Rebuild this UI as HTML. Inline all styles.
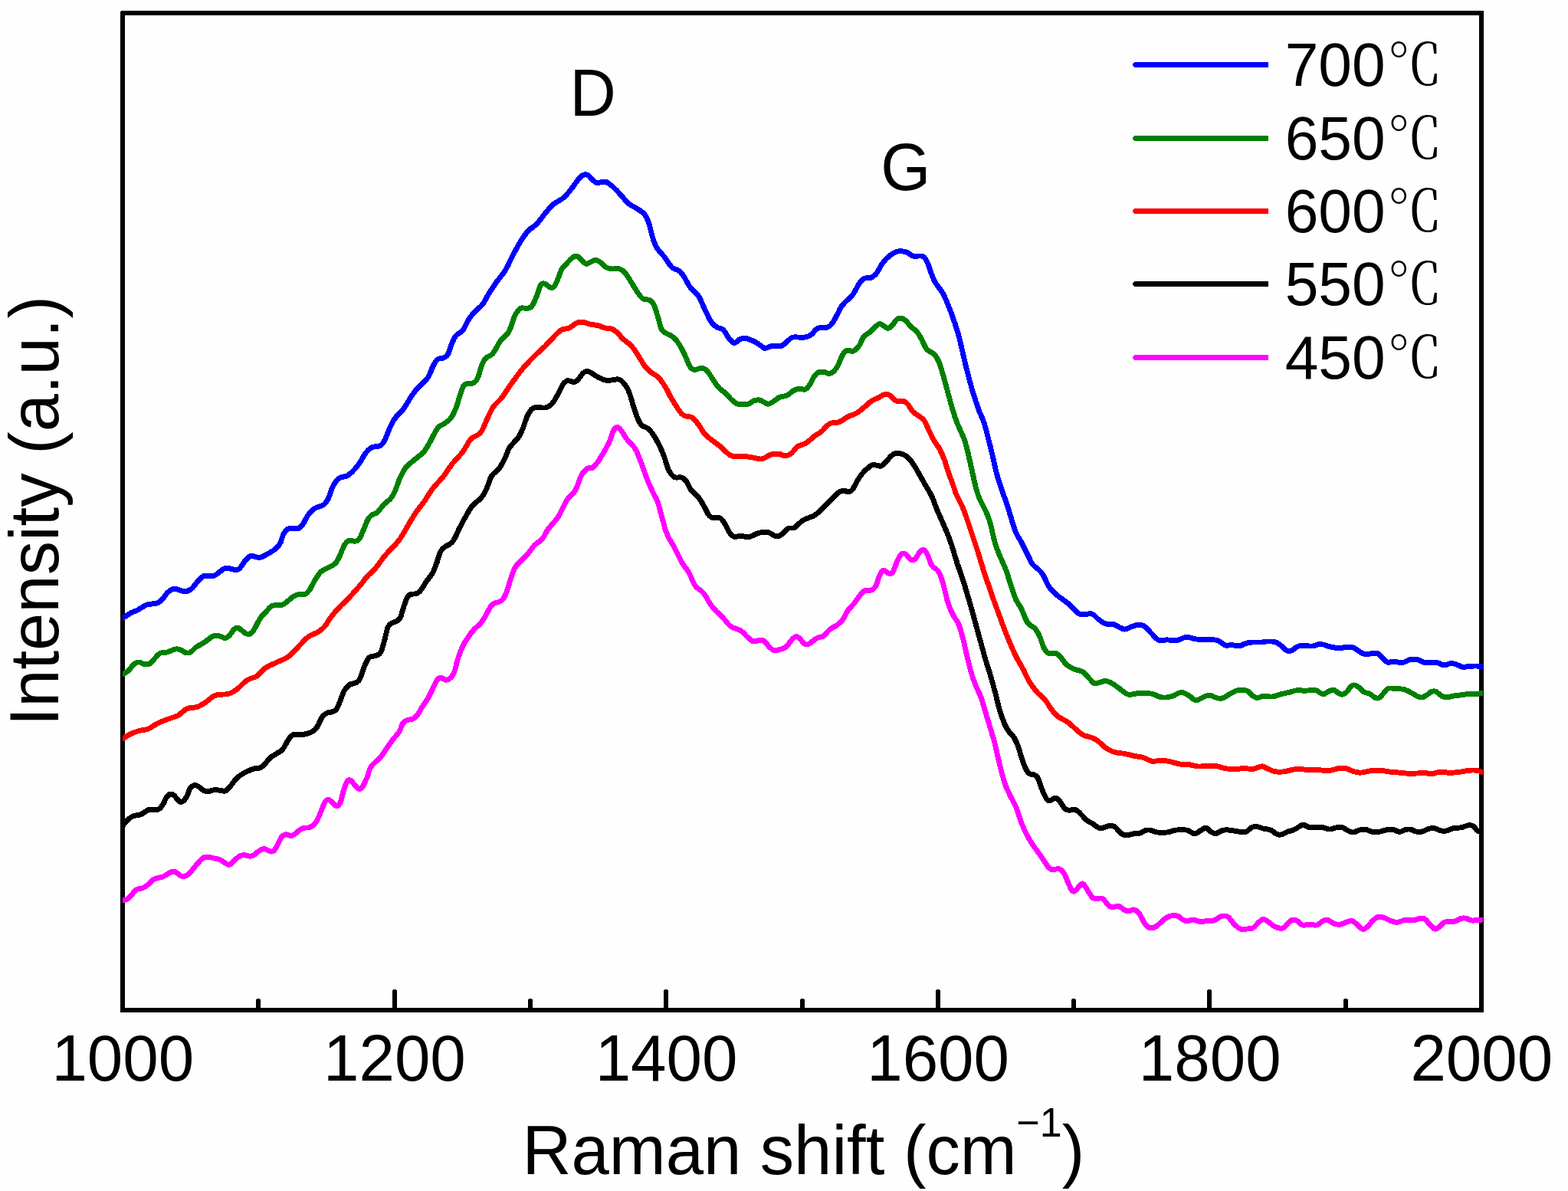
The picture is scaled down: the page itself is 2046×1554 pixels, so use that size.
<!DOCTYPE html>
<html lang="en">
<head>
<meta charset="utf-8">
<title>Raman spectra</title>
<style>
html,body{margin:0;padding:0;background:#fff;}
body{width:2046px;height:1554px;overflow:hidden;}
svg{display:block;}
text{font-family:"Liberation Sans",sans-serif;fill:#000;}
.cjk{font-family:"Liberation Sans","Noto Serif CJK SC",serif;}
</style>
</head>
<body>
<svg width="2046" height="1554" viewBox="0 0 2046 1554">
<rect x="0" y="0" width="2046" height="1554" fill="#fefefe"/>
<defs><clipPath id="plotclip"><rect x="160" y="0" width="1775" height="1554"/></clipPath></defs>
<g id="axes" shape-rendering="crispEdges" fill="#000">
<rect x="157" y="15" width="6" height="1306"/>
<rect x="158" y="14" width="1778" height="6"/>
<rect x="1930" y="14" width="6" height="1306"/>
<rect x="158" y="1315" width="1778" height="6"/>
<rect x="334" y="1304" width="6" height="14"/>
<rect x="335" y="1303" width="4" height="1"/>
<rect x="512" y="1292" width="6" height="26"/>
<rect x="513" y="1291" width="4" height="1"/>
<rect x="689" y="1304" width="6" height="14"/>
<rect x="690" y="1303" width="4" height="1"/>
<rect x="866" y="1292" width="6" height="26"/>
<rect x="867" y="1291" width="4" height="1"/>
<rect x="1044" y="1304" width="6" height="14"/>
<rect x="1045" y="1303" width="4" height="1"/>
<rect x="1221" y="1292" width="6" height="26"/>
<rect x="1222" y="1291" width="4" height="1"/>
<rect x="1398" y="1304" width="6" height="14"/>
<rect x="1399" y="1303" width="4" height="1"/>
<rect x="1575" y="1292" width="6" height="26"/>
<rect x="1576" y="1291" width="4" height="1"/>
<rect x="1753" y="1304" width="6" height="14"/>
<rect x="1754" y="1303" width="4" height="1"/>
</g>
<g id="curves" clip-path="url(#plotclip)" shape-rendering="crispEdges" fill-rule="evenodd">
<path d="M160 1177.9L163.3 1177.6L165.1 1177.3L167.4 1176.4L169.4 1175L171.5 1173L174.7 1169.6L178.5 1164.7L179.4 1163.9L181 1163.3L186.8 1162L189.8 1160.7L192.6 1159L195.1 1157L197 1155.2L199.9 1152.1L201.7 1150.8L203.8 1149.8L206.9 1148.8L211.7 1147.8L214.6 1146.8L216.8 1145.6L224.8 1140.8L225.8 1140.6L227.2 1141L228.7 1141.8L233.9 1145.5L235.4 1146.2L236.9 1146.7L238.5 1146.9L240.7 1146.8L242.9 1146.3L244.4 1145.7L246.3 1144.5L248.1 1143.1L252.4 1138.8L254.7 1136.1L259.2 1130.3L264.5 1124.4L267 1122.2L268 1121.7L269.5 1121.5L272.5 1121.7L284.4 1124.4L286.3 1125.3L290.7 1128.2L295.1 1130.8L297.7 1131.7L298.7 1131.8L299.9 1131.7L301.9 1131L303.4 1129.9L308.4 1124.9L312.6 1121.3L314.2 1120.2L315.6 1119.6L316.9 1119.3L318.8 1119.2L325 1120.6L327.2 1120.5L329.2 1120.1L331.8 1119.1L334.2 1117.8L339.5 1113.5L343.3 1111.2L344.5 1110.9L348.4 1112.8L352.4 1114.2L353.9 1114.5L355.1 1114.5L356.6 1114.2L357.8 1113.8L359.5 1112.6L360.8 1111.3L361.9 1109.7L365 1104.6L368.1 1097.8L369.4 1095.3L370.6 1093.9L371.8 1092.9L372.6 1092.5L373.6 1092.3L377.2 1093.5L378.9 1093.8L380.7 1093.7L382.9 1093.2L384.8 1092.3L386.8 1091.1L393.1 1085.7L394.9 1084.5L396.5 1084L399 1083.4L402.4 1083.5L403.9 1083.3L405.1 1082.9L408.5 1081.1L411.7 1078.6L414.6 1075.4L417.1 1071.2L421.2 1062.3L426.1 1049.7L427.2 1047.8L428 1047L428.3 1047L429.3 1047.8L432.6 1050.7L435.5 1053.7L437.5 1054.8L439.4 1055.1L441.4 1054.7L443.2 1053.8L444.2 1053L446.3 1050.3L447.8 1047.1L448.9 1043.6L451.3 1033.5L454.2 1024.9L455.6 1021.9L455.9 1021.4L456.3 1021.5L456.8 1022.1L459.3 1025.5L463.4 1030.4L464.8 1031.5L465.7 1032L467.8 1032.7L469.3 1032.8L470.8 1032.5L472.3 1031.9L474.2 1030.5L475.7 1028.8L476.9 1026.9L479.6 1021.5L482.3 1015.2L485.7 1004.9L487.3 1001.9L489 999.9L498.5 990.7L501.7 987L508.4 976.8L512.8 970.6L516.7 965.4L521.6 959.7L523.8 956.7L525.2 954L528.1 946.1L529 944.9L530.2 944L532.8 942.8L533.8 942.4L538.2 941.7L540.8 940.6L542.7 939.4L544.2 938.2L546 936.4L547.7 934.3L549.5 931.7L553.9 924L559.3 916.1L561.9 911.9L564.6 906.7L571.6 892L573.2 889.2L574.4 888L575.2 887.8L578.6 889.7L580.3 890.4L582.4 890.7L584.7 890.3L586.8 889.5L588.8 888.1L591.2 886L592.9 883.8L594.7 880.9L596.3 877.1L597.3 873.6L599.8 863.7L601.8 857.6L604.2 851L606.1 846.5L608.6 841.6L610.5 838.2L612.9 834.5L616.8 828.9L620.6 824.2L622.9 821.9L628.3 817L631.9 812.9L634.5 808.8L639 800.4L642.4 794.6L644.5 791.6L646 790.5L650.9 789.1L655.4 787.1L657.7 785.3L659.7 783L662.2 778.6L664.7 772.7L668.8 759.4L672.2 749.1L674.2 744.1L675.9 740.9L678 738.3L687.4 729.3L690 726.6L692.8 723.1L697.7 716.3L700 713.6L701.6 712.2L707 708.5L709.1 706.5L710.9 704.4L712.4 702.1L716.5 694.9L717.8 692.8L720.7 689.1L728.1 680.4L730.2 677.6L732.5 674.2L735 669.5L740.1 658.6L742.3 654.7L744.6 651.9L750.5 646L752.2 643.8L753.5 641.9L754.7 639.8L755.7 637.3L760.7 623.8L761.5 622L763.3 619.1L765.9 616.2L768.3 614.2L771.2 614.3L773.1 614.1L774.9 613.4L776.3 612.4L778.1 610.7L779.6 609L784.4 602.4L788 596.6L793 588L797.6 579.5L799.8 574.4L802.7 565.4L803.6 563.3L804.3 562.2L805.4 561.1L806.5 562.1L807.8 563.6L809.1 565.5L812.5 571.3L814.3 574L817 577.2L822 582.3L823.8 584.4L825.6 586.9L827.4 590.1L829.8 595.7L833.8 606L839.8 622.7L842.8 630.6L849.4 645L853.4 652.4L854.8 655.5L856.7 661.6L860.2 675.1L864.2 689.5L865.7 694.4L867.3 698.5L870 704.1L876.9 715.8L883.9 730L886.4 734.8L889.1 739.1L894.6 746.9L896.5 750L897.9 752.8L901.4 761.1L902.5 763.4L903.8 765.5L905.5 767.7L907.3 769.4L913.3 774.1L915.5 776.2L917.6 779.2L923.2 788.7L925.7 792.3L928.3 795.7L932.6 800.4L941.5 809.1L947.9 816.7L951 819.7L952.9 821L955.2 822.2L962.8 824.8L965.5 826.2L967.1 827.6L971.6 832.5L975.6 836.2L977.8 838L980.2 839.6L982.6 840.4L985.1 840.4L987.2 840L991.3 838.7L992.6 838.5L993.6 838.6L994.4 838.9L996 840.1L1000.3 845.4L1002.3 847.4L1005.3 850L1007.8 851.5L1009.6 852L1011.8 852.2L1015 851.8L1022.8 849.5L1026.1 847.9L1028.1 846.5L1030 844.6L1034.7 838.3L1036.5 836.1L1038.5 834.3L1039 834L1041.5 835.9L1044.8 840L1047 842.3L1048.5 843.3L1050.1 844.1L1051.1 844.3L1052.8 844.5L1055.2 844.1L1057.6 843L1063.1 838.8L1068 835.4L1069.4 834.9L1073.9 833.9L1076.5 832.7L1078.9 830.7L1083.5 825.2L1084.7 824.1L1086.8 822.6L1091.6 820.1L1093.9 818.6L1097.7 815.5L1100.7 812.6L1102.7 810.1L1103.9 808.4L1108 800.4L1109.3 798.3L1111.1 796.2L1116.6 790.2L1123.8 780.3L1127.1 776.1L1128.3 774.8L1129.1 774.2L1129.7 774L1131.1 773.9L1135 773.9L1137 773.6L1138 773.3L1140.7 771.9L1143.2 769.7L1145 767.4L1146.7 764.4L1147.8 761.6L1150.3 753.9L1151.1 751.7L1152.8 748.7L1153.4 748L1155.7 750.1L1156.6 750.7L1158.1 751.3L1160.7 752L1162.7 752L1163.7 751.8L1164.8 751.4L1165.8 750.8L1167 749.7L1168.1 748.2L1169.2 745.9L1172.7 736.3L1174.6 732L1177.4 726.8L1178.5 725.4L1180.4 726.4L1180.9 726.9L1183.8 730.6L1185.7 732.4L1186.7 733L1188.3 733.7L1189.9 734.1L1191.6 734.1L1194.1 733.4L1195 732.9L1196.5 731.8L1197.3 731.1L1199 728.7L1202.2 723.3L1204.4 721L1204.6 721.1L1205.6 722.4L1206.9 724.6L1207.8 726.7L1210.8 735L1212.7 739.1L1214 740.9L1215.5 742.5L1219.8 745.7L1220.9 746.8L1222.1 748.3L1223.3 750.7L1225.2 755.7L1228.2 765.5L1232.6 784.1L1234.7 790.8L1237.4 797.3L1241.9 806.4L1243.2 808.5L1246.5 813.3L1248.2 817.2L1250.7 824.9L1253.7 835.9L1260.2 864.2L1262.2 872.2L1264.2 879.3L1266.7 887.2L1269.3 894.1L1270.9 897.9L1275.3 907.4L1277.7 913.6L1282.7 930.6L1293.2 965.1L1295.1 972.6L1299.1 990.4L1302.1 1002.9L1304.7 1012.4L1307.2 1020.8L1309.2 1026.8L1311.4 1032L1315.4 1040.4L1320.9 1050.9L1322.8 1055L1324.2 1058.8L1328.2 1071.3L1332.3 1081.4L1336.5 1090.3L1341 1098.3L1348.2 1109L1356.6 1120.8L1362.1 1129.2L1364.2 1132.2L1367.5 1135.7L1369 1136.8L1370.7 1137.6L1372.4 1138L1374.5 1138L1379.8 1137.2L1381.2 1137.2L1382 1137.4L1383 1138.2L1384.2 1139.6L1386 1142.3L1387.3 1145.2L1390.9 1154L1394 1160.7L1396 1164L1397 1165.1L1398.3 1166L1399.7 1166.5L1401.1 1166.6L1402.1 1166.4L1403.3 1165.9L1404.8 1165L1407.7 1162.5L1411.1 1158.1L1412.2 1157L1419.6 1169.1L1421.4 1171.7L1423.6 1174L1425.4 1175.1L1426.9 1175.6L1430.1 1176L1432.2 1176L1436.1 1175.4L1436.9 1175.6L1438.4 1176.9L1442.3 1181.9L1443.9 1183.8L1445.3 1185L1447.5 1186.2L1449.9 1186.8L1454.1 1186.7L1458.5 1185.7L1459.2 1185.7L1460.1 1186.2L1464.9 1190L1466.8 1190.9L1468.8 1191.7L1471.4 1192.2L1473.6 1192.2L1474.5 1192L1479 1190.3L1480.6 1191.1L1482.5 1192.7L1484.2 1194.7L1489.1 1204.1L1491.1 1207.1L1493 1209.4L1494.9 1211.4L1497 1213L1499.3 1213.9L1501.5 1214.3L1503.6 1214.2L1505.6 1213.9L1508.2 1213L1510.6 1211.6L1513.6 1209.3L1519.3 1203.9L1521.1 1202.3L1523.4 1200.7L1525.1 1199.7L1527.9 1198.5L1531.6 1198.1L1534.4 1198.3L1536.4 1198.8L1540.9 1202.6L1543.9 1204.1L1546.4 1205L1548.6 1205.3L1550.2 1205.3L1552.4 1204.8L1555.9 1203.5L1556.7 1203.4L1558.5 1203.8L1564.3 1205.9L1567.3 1206.3L1570.3 1206L1575 1204.9L1581 1204.9L1584.4 1204.5L1585.9 1204L1587.9 1203.1L1593.2 1199.6L1594.7 1198.9L1597 1198.4L1598.7 1198.4L1600 1198.9L1601.1 1199.8L1606.5 1206.5L1610.5 1210.6L1613 1212.8L1614.5 1213.9L1616.4 1214.9L1618.6 1215.6L1620.7 1215.8L1631.6 1215.3L1634.2 1214.8L1636.2 1214L1637.8 1213.1L1639.2 1211.9L1644.4 1206.2L1646.7 1204.2L1648.5 1202.9L1649.7 1203.4L1653.5 1206L1658.4 1209.9L1661.5 1211.8L1663.8 1212.9L1666.1 1213.8L1668.5 1214.4L1670.3 1214.7L1672.4 1214.7L1674.6 1214.4L1676.1 1213.9L1677.8 1213L1680.2 1210.6L1683.9 1206L1685.9 1204.4L1687.2 1203.8L1688.9 1203.8L1690.8 1204.4L1691.8 1205.2L1695.5 1208.7L1697.2 1209.7L1699 1210.3L1700.5 1210.5L1702.5 1210.6L1709 1209.7L1716.2 1210.6L1718.9 1210.4L1721.3 1209.5L1723.4 1208.2L1727 1205.2L1728.1 1204.5L1729.9 1203.8L1731 1203.7L1732.4 1204.1L1736.6 1206.8L1739 1208.1L1743 1209.3L1746.6 1209.7L1749.2 1209.6L1751.2 1209.2L1762 1205L1763.3 1204.8L1763.8 1205L1765.4 1206.2L1768.2 1208.5L1772 1212.5L1773.8 1214L1775.9 1215.2L1776.8 1215.5L1778.8 1215.8L1780.7 1215.5L1782.2 1215L1785.4 1212.9L1788.2 1210.2L1793 1204.4L1796.6 1201.2L1798.6 1200L1799.9 1199.6L1801.4 1199.7L1804 1200.4L1805.6 1201L1811 1203.6L1813.2 1204.5L1818 1206L1820.3 1206.5L1822.6 1206.8L1824.7 1206.7L1826.2 1206.3L1831 1204.6L1832.6 1204.2L1835.1 1204L1842.5 1204.1L1845.7 1203.9L1848.7 1203.3L1853.6 1201.6L1854.9 1201.5L1856.3 1201.6L1857.2 1202L1858.2 1202.7L1863.3 1209L1867.6 1213.2L1870.3 1215.1L1871.3 1215.4L1872.7 1215.7L1873.6 1215.6L1875.4 1215.2L1876.9 1214.5L1879.4 1212.8L1881.4 1211L1885.3 1207.2L1886.3 1206.5L1888.1 1206.2L1893.8 1206.4L1897.6 1206.1L1900.5 1205.1L1906.4 1202.2L1908.6 1201.5L1910.5 1201.3L1911.8 1201.5L1913.3 1202L1917.6 1203.9L1919.1 1204.3L1920.6 1204.5L1923.1 1204.5L1927.8 1203.9L1937.6 1203.3L1942 1203.3L1942 1196.4L1937.3 1196.4L1931.3 1196.7L1927.1 1197L1922.7 1197.6L1921.2 1197.6L1919.7 1197.3L1915.9 1195.6L1913.6 1194.8L1910.2 1194.4L1907.7 1194.6L1905.3 1195.2L1903.5 1195.9L1897.7 1198.8L1895.8 1199.4L1893.9 1199.5L1887.6 1199.3L1885.6 1199.6L1884.1 1200L1882.4 1200.8L1880.9 1201.8L1875.4 1207.2L1873 1208.7L1872.2 1208.1L1868.6 1204.5L1864.7 1199.7L1862.6 1197.5L1860.5 1195.9L1858 1194.9L1855.4 1194.6L1852.8 1194.7L1850.6 1195.2L1846.5 1196.7L1845 1197L1842.4 1197.2L1835 1197.1L1831.7 1197.4L1828.8 1198.1L1824.6 1199.6L1822.6 1199.9L1819.9 1199.4L1815.7 1198.1L1808.5 1194.8L1805.9 1193.8L1802.4 1192.9L1799.4 1192.7L1797.4 1193.1L1795.7 1193.7L1792.2 1195.9L1787.8 1199.8L1782.9 1205.7L1781.3 1207.4L1779.4 1208.6L1778.8 1208.8L1778 1208.5L1776.8 1207.5L1773 1203.6L1769.5 1200.7L1767.5 1199.2L1765.3 1198.2L1764.1 1198L1762.6 1197.9L1760.2 1198.3L1749.1 1202.6L1746.7 1202.8L1744.3 1202.5L1741.3 1201.6L1735.3 1197.8L1733.8 1197.2L1731.4 1196.8L1728.5 1197.1L1725.3 1198.2L1722.8 1199.7L1718.4 1203.3L1717.7 1203.5L1716.5 1203.7L1709.2 1202.8L1706.5 1203L1702.2 1203.7L1700.4 1203.6L1699.7 1203.1L1696 1199.7L1693.9 1198.2L1691.9 1197.4L1689.8 1196.9L1687.7 1196.8L1686.2 1197L1684.5 1197.4L1682.4 1198.4L1679.3 1200.8L1677.8 1202.5L1674.9 1206.2L1673.9 1207.3L1672.7 1207.8L1670.9 1207.8L1668.1 1207.2L1664.7 1205.7L1662.5 1204.3L1657.6 1200.5L1653.1 1197.4L1650.6 1196.3L1649.1 1196L1647.9 1196L1646 1196.5L1645 1196.9L1642.4 1198.8L1639.7 1201.2L1634.6 1206.8L1633.5 1207.7L1632.1 1208.2L1630.6 1208.4L1621 1208.9L1619.2 1208.6L1618.3 1208.2L1615.4 1205.7L1611.6 1201.8L1607.6 1196.7L1606.1 1195L1604.8 1193.9L1602.7 1192.6L1599.9 1191.6L1598.4 1191.5L1596.3 1191.5L1592 1192.5L1589.6 1193.7L1584.4 1197.2L1582.8 1197.7L1580.8 1198L1574.3 1198.1L1568.9 1199.2L1567.4 1199.4L1566 1199.2L1560.2 1197.1L1556.9 1196.5L1554.3 1196.8L1549.4 1198.4L1548.3 1198.3L1546.8 1197.9L1544.8 1196.8L1541.3 1193.8L1539.2 1192.5L1537.8 1192L1535.4 1191.4L1531.6 1191.2L1528.7 1191.4L1526.4 1191.8L1524.1 1192.5L1521.7 1193.6L1519.5 1195L1516.7 1197L1509.3 1203.9L1506.6 1205.9L1504.1 1207.2L1501.8 1207.4L1500.3 1206.9L1499.3 1206.1L1498.1 1204.8L1495 1200.4L1491.6 1193.8L1489.7 1190.5L1487.4 1187.8L1484.6 1185.4L1482.1 1184L1479.7 1183.4L1478.3 1183.4L1476.8 1183.7L1472.9 1185.3L1470.9 1185.1L1468.4 1184L1463.7 1180.3L1462.2 1179.5L1460.3 1178.9L1457.8 1178.8L1453.5 1179.8L1450.7 1179.9L1450.1 1179.8L1448.9 1179.1L1447.7 1177.6L1443.4 1172.2L1441.4 1170.3L1439.7 1169.3L1437.9 1168.7L1436.4 1168.5L1430.6 1169.2L1428.8 1168.9L1428 1168.7L1426.7 1167.3L1425.4 1165.3L1418.2 1153.5L1416.7 1151.5L1415 1150.1L1413 1149.4L1411.4 1149.6L1410.4 1149.9L1409.3 1150.5L1407.6 1151.9L1406.1 1153.4L1402.5 1157.9L1401.1 1159.2L1400.1 1157.4L1397.2 1151.1L1393.7 1142.5L1392.1 1139.2L1389.9 1135.7L1387.8 1133.2L1386.8 1132.3L1385.3 1131.4L1383.7 1130.7L1382.1 1130.3L1379.5 1130.3L1374.2 1131.1L1373 1131.1L1371.8 1130.3L1369.7 1128L1367.9 1125.4L1362.3 1116.8L1353.8 1105.1L1346.9 1094.6L1342.6 1087.1L1338.7 1078.8L1334.7 1069.1L1330.8 1056.6L1329.2 1052.5L1327.1 1047.7L1321.6 1037.3L1317.7 1029.1L1315.7 1024.4L1313.8 1018.8L1311.3 1010.5L1308.8 1001.2L1305.9 988.9L1301.9 971L1299.8 963.2L1289.3 928.6L1284.3 911.4L1281.7 904.7L1277.1 895L1275.7 891.6L1273.3 885L1270.8 877.4L1268.8 870.5L1266.9 862.6L1260.3 834.1L1257.3 823L1254.8 815L1253.7 812.2L1252.6 810L1248.9 804.7L1248 803.2L1243.6 794.4L1241.2 788.4L1239.3 782.4L1234.8 763.6L1231.8 753.6L1229.6 747.7L1228.1 744.8L1226.2 742.4L1224.1 740.3L1220.3 737.5L1218.5 735.3L1217.2 732.5L1214.2 724.3L1213.2 721.7L1211.5 718.8L1209.7 716.5L1207.6 714.7L1206.4 714.2L1205.4 713.9L1203.8 713.9L1201.7 714.5L1200.1 715.5L1198.4 717.2L1196.9 718.9L1195.5 720.9L1193.1 725.1L1192 726.5L1191.4 727L1190.9 727.2L1190.4 727.1L1189.7 726.8L1186.2 722.5L1184.8 721.1L1182.8 719.8L1180.9 718.9L1179.1 718.5L1177 718.6L1175.9 719L1174.1 720.1L1172.7 721.5L1171.5 723.2L1168.4 729L1166.3 733.9L1162.8 743.3L1161.9 745.1L1161.6 745.1L1159.9 744.6L1156.8 741.9L1155.8 741.3L1154.4 740.8L1153.4 740.6L1151.4 740.9L1150.6 741.4L1148.9 742.7L1147 745L1145 748.5L1143.7 751.7L1141.2 759.4L1140.4 761.6L1139.1 763.7L1138 765.2L1136.6 766.3L1135.5 766.9L1134.3 767.1L1130.7 767L1127.9 767.3L1125.5 768.3L1123.5 769.9L1121.8 771.7L1118.3 776.1L1111.3 785.8L1106 791.5L1103.8 794.1L1101.9 797.1L1098 804.7L1095.4 808L1093.2 810.3L1090 813L1088.3 814L1083.4 816.6L1080.5 818.6L1078.4 820.7L1074 825.9L1072.8 826.9L1071.5 827.4L1067.3 828.3L1064.7 829.4L1062.5 830.7L1059 833.3L1054.1 837.1L1052.7 837.6L1052.2 837.5L1051.3 836.9L1046.7 831.3L1043.2 828.4L1042.2 827.8L1040.6 827.2L1038.6 827.1L1037.2 827.3L1034.8 828.4L1031.7 831.2L1029.2 834.1L1024.9 839.9L1023.7 841.1L1022.6 841.9L1020.4 843L1013.7 845L1011.8 845.3L1010.8 845.2L1009.5 844.5L1006.9 842.3L1000.8 835.2L999.4 834L997.9 833L995.8 832L994.9 831.8L991.9 831.6L989.4 832L984.6 833.5L983.4 833.4L982 832.6L980.3 831.1L976.5 827.6L972 822.8L969.2 820.4L967.4 819.3L965.4 818.5L957.9 815.9L955.2 814.2L953 812.1L946.4 804.3L937.5 795.5L933.6 791.4L931.3 788.3L928.9 784.9L923.5 775.6L920.7 771.7L917.6 768.7L911.9 764.3L910.6 763L909.4 761.4L907.6 758.2L904.2 750L902.6 746.8L900.3 743L894.9 735.3L892.5 731.5L890.1 726.9L883 712.5L876 700.7L873.7 695.9L872.3 692.3L870.8 687.6L866.8 673.3L863.3 659.8L861.3 653.3L859.5 649.2L855.6 642L849.2 627.9L846.2 620.3L840.2 603.6L836.2 593.2L833.5 586.9L831.5 583.3L829.1 580L827 577.5L822.1 572.5L819.8 569.7L815 561.9L813.1 559.3L811.4 557.2L809.2 555.3L808.2 554.7L806.1 554.1L804.7 554.2L803.2 554.5L802.2 554.9L800.4 556.2L798.5 558.3L797.3 560.5L796.3 562.9L793.3 572.1L791.4 576.4L789.5 580.2L782 593.1L778.6 598.6L774.3 604.6L773 606L771.5 607.4L767.8 607.3L766.3 607.6L765.1 608.1L763.3 609.3L761 611.2L759.3 613.1L757.6 615.3L755.6 618.6L754.4 621L749.3 634.8L747.5 638.4L745.4 641.4L739.6 647.1L736.6 650.9L734 655.5L728.9 666.4L726.5 670.8L722.8 676L715.4 684.7L712.3 688.7L710.5 691.4L706.6 698.4L705.2 700.4L704 701.9L702.8 702.9L697.5 706.6L694.9 709L692.2 712.2L687.3 719L684.9 721.9L682.6 724.4L673.1 733.5L671.4 735.4L670.2 737L669.1 738.9L667.9 741.2L665.7 746.8L662.2 757.2L658.3 770.1L655.9 775.8L654.1 778.9L653 780.2L651.8 781.1L648.4 782.7L644.9 783.6L642.7 784.4L640.6 785.8L639.3 787.1L638.1 788.6L636.5 791L633 797.1L628.5 805.4L626.2 808.9L623.5 812L618.2 816.8L615.3 819.7L611.2 824.9L607.2 830.5L604.6 834.6L602.4 838.4L599.9 843.6L597.8 848.4L595.3 855.3L593.2 861.7L590.7 871.9L589.8 874.9L588.4 877.9L587.2 879.9L586 881.4L584.4 882.8L582.7 883.7L582.1 883.7L578.8 881.8L577.2 881.2L575.3 880.9L574.3 880.9L572.8 881.2L570.9 882.1L569.3 883.2L567.9 884.8L566.6 886.7L565.4 889L558.4 903.7L556 908.4L553.6 912.2L548.2 920.2L543.6 928.1L542.2 930.1L539.6 933L537.5 934.6L536.1 935.1L532 935.8L530 936.4L526.5 938.1L525.2 939.1L523.8 940.4L522.5 942.1L521.8 943.5L518.8 951.4L518.1 952.8L516.3 955.3L511.2 961.2L507.2 966.6L502.6 973L496.2 982.8L493.5 986L484.1 995L481.6 998.1L480.4 1000L479.2 1002.5L475.8 1012.9L473.4 1018.6L471 1023.4L469.5 1025.5L468.9 1025.8L468.4 1025.5L464.7 1021.2L462 1017.5L460.3 1015.8L458.5 1014.9L457 1014.5L455.8 1014.3L454.8 1014.4L453.4 1014.8L452.4 1015.3L451.5 1016L450.1 1017.6L449.4 1018.8L447.9 1022.2L444.7 1031.5L442.2 1041.8L441.3 1044.9L440.5 1046.5L439.5 1047.9L437.3 1045.6L433.8 1042.5L431.4 1040.8L430.4 1040.4L428.3 1040L426.4 1040.2L424.4 1041.1L423.6 1041.7L422.1 1043.1L420 1046.3L418.3 1050.5L414.8 1059.7L410.9 1068.2L409.2 1071.1L407.1 1073.5L404.7 1075.4L402.4 1076.5L399.3 1076.5L397.7 1076.6L394.3 1077.4L391.9 1078.3L390.5 1079.1L388.7 1080.4L383 1085.4L380.4 1086.7L379.4 1086.9L375.6 1085.6L374.1 1085.3L372.8 1085.4L370 1086.1L368 1087.1L365.6 1089L363.8 1091.3L361.9 1094.9L358.9 1101.3L356.2 1105.9L354.8 1107.5L353.9 1107.5L350.9 1106.4L346.9 1104.4L345.9 1104.1L344 1104L343 1104.1L341 1104.7L338.4 1106.1L335.3 1108L330.6 1111.9L329 1112.8L327.5 1113.4L325.4 1113.7L321.4 1112.6L318.9 1112.3L316.4 1112.4L313.8 1112.9L311.1 1114L308.3 1115.9L303.8 1119.8L299.3 1124.5L298.7 1124.8L294.4 1122.3L289.9 1119.4L286.4 1117.8L273.2 1114.9L269.3 1114.6L267.3 1114.8L265.8 1115.1L264.2 1115.8L262.9 1116.6L259.6 1119.5L253.9 1125.8L247.5 1134.1L243.7 1137.8L241.4 1139.4L239.6 1140L238.8 1140L237.8 1139.8L232.1 1135.8L230.1 1134.7L228 1134L225.8 1133.7L224.3 1133.8L222.5 1134.2L220.2 1135.4L213.3 1139.7L211.7 1140.6L210.1 1141.1L204.9 1142.1L201.1 1143.4L198.1 1144.8L196.6 1145.8L195.2 1147L190.7 1151.7L188.5 1153.4L186.4 1154.7L184.5 1155.5L178.8 1156.7L175.9 1158L173.3 1160.2L169.4 1165.2L166.6 1168.2L164.8 1169.8L163.9 1170.5L162.6 1170.8L159.9 1171L154 1171L154 1177.9Z" fill="#ff00ff"/>
<path d="M158.7 1073.6L154 1073.6L154 1080.5L160 1080.5L162 1079.9L163 1079.1L169.9 1071.6L171.7 1070L172.8 1069.2L174.4 1068.4L176.9 1067.5L182.6 1066.5L185.6 1065.6L188 1064.3L192.8 1060.9L194.4 1060.1L195.2 1059.8L196.5 1059.7L202.2 1060.1L204.6 1060.1L206.6 1059.8L208.8 1058.9L210.6 1057.7L212 1056.3L215.3 1051.8L216.6 1049.5L219.6 1043.1L220.3 1041.8L221.8 1040.2L222.7 1039.5L223.1 1039.5L223.5 1039.6L224.4 1040.2L225.5 1041.1L229.4 1046.1L230.8 1047.6L232.5 1048.8L233.5 1049.3L235.4 1049.8L237.3 1049.8L239.2 1049.2L241.9 1047.4L243.2 1046.1L244.4 1044.6L246.1 1042L247.6 1039.1L250.2 1032.1L250.9 1030.6L252.2 1029.1L253.2 1028.4L254.1 1028L254.7 1028L255.9 1028.4L257.5 1029.3L261.5 1032.7L263.5 1034.1L266.7 1035.4L269.2 1036L271.4 1036.1L272.9 1036L278.2 1034.4L280.2 1034.1L282.3 1034.2L286.4 1034.6L291.5 1035.7L293.8 1035.6L294.7 1035.4L296.3 1034.7L297.7 1033.8L299.2 1032.5L302.5 1029.1L307.7 1022.1L311 1018.4L313.7 1015.8L316.4 1013.8L322.1 1010.5L328.8 1007.5L333.1 1006L337.5 1005.8L339.7 1005.4L341.9 1004.5L344.4 1002.8L348.6 998.6L354 992.3L355.7 990.6L357.4 989.4L361.9 986.9L366.9 983.7L369.1 982.1L370.9 980.4L372.1 978.9L373.4 977.1L377 970.7L380.3 965.5L382.1 963.3L383 962.4L383.7 962.1L385 961.8L388 961.6L394.2 961.9L397.7 961.5L401 960.7L404.2 959.8L407 958.7L409.9 957.2L411.8 955.9L413.3 954.6L416.2 951.1L418.1 947.9L421.1 941.4L422.5 938.8L423.7 937L425.4 935.2L426.9 934L427.8 933.5L433.9 932.3L437.8 930.7L440 929.3L440.7 928.6L442.6 926.2L444.1 923.3L451.6 904L452.4 902.6L454.2 900L455.9 898.1L457.9 896.4L459.2 895.8L463.3 894.9L466.4 893.7L469.4 891.6L470.8 890.3L471.8 888.9L473.8 884.9L477.2 874.6L479.7 868.6L481.6 864.3L483.4 861.1L483.9 860.6L484.8 860.2L486.7 859.6L490.3 859.3L491.3 859L494.6 857.6L497.1 856L499.6 853L501.2 849.5L502.8 844.6L505.8 833.5L508.3 822.7L509.5 819.4L510.6 817.8L512.8 816.1L513.8 815.6L516.5 814.7L518.4 814L521.9 811.8L522.6 811.2L524.5 808.9L525.7 806.7L526.7 804L529.8 793.5L532.2 786.5L534.1 781.9L535.3 779.8L535.8 779.3L536.6 779L538.5 778.5L542.3 778.4L544.6 777.7L547.6 776.1L550 774.2L552.7 771L559.4 760.4L564.7 753.5L566.3 751.1L568.2 747.9L570.2 743.2L573.3 735.2L577.2 723.2L578.1 721.1L578.9 719.8L580 718.4L581.1 717.5L584.3 715.2L588.1 713.2L590.3 711.7L592.1 710L593.6 708.2L595.9 704.9L597.5 701.9L601.6 692.7L607 682.2L614 669.7L616.9 665L618.7 662.5L620.4 660.7L626.7 655.5L629.1 653.2L631.8 650L634 646.9L636.1 643.3L638.1 639.3L642.7 626.5L644.4 622.9L646.1 620.8L652 615.7L653.3 614.4L654.8 612.4L658.1 607L662.1 599.3L666.2 589.2L667.5 586.4L670.1 582.8L677.6 574.8L679.4 572.3L681.1 569.7L683.2 565.6L685.7 559.6L690.7 545.2L692.5 541.6L694.8 538.1L696.6 536.1L697.5 535.6L698.4 535.2L701 534.9L707.7 535.5L711.1 535.4L713 535.1L715.4 534.3L717.3 533.5L719.1 532.4L720.9 530.9L722.7 529.2L724.3 527.1L726.3 524.2L731.1 516.1L736.5 504.9L737.7 503L739.3 501.3L740.9 500.2L742.8 500.4L746.3 501.5L748.2 501.7L750.6 501.5L753.3 500.5L755.4 499.1L756.9 497.7L762.5 490.1L764.4 488.5L765.4 488L766.4 487.7L767.4 488.1L778 494.8L783.5 497.4L787.6 499L791.3 499.9L794.4 500L801.5 498.8L805.7 498.3L806.4 498.3L807.1 498.5L808 499.1L809.2 500L810.9 501.8L813.2 504.7L815 507.6L816.4 510.1L817.8 513.3L819.2 517.4L823.2 531.2L825.7 539L828.3 545.9L830.9 551.6L833 555.3L835 557.5L835.7 558.1L837.8 559.3L841.9 560.8L842.8 561.5L844.6 563.1L848.3 567.3L852 573L856.4 580.9L859.8 588.2L863.3 596.7L868.3 612.3L870 616.1L872.4 619.9L875.3 623.3L876.7 624.5L878.8 625.7L880.3 626.2L882.5 626.6L887.5 626.2L888.3 626.2L889.6 626.8L891.1 628.1L893.1 630.5L896.9 638L898.9 641.1L901.7 644.1L907 649L909.6 652.2L912 656.1L916 662.9L920 670.7L921.2 672.7L922.5 674.4L923.8 675.9L925.8 677.4L927.3 678.3L929.3 679L930.8 679.3L932.4 679.4L937.3 678.8L937.8 678.9L938.5 679.3L939.8 680.6L942.6 684.7L944 687.2L947.4 694.1L949.8 697.9L951.1 699.4L953 701.3L955.1 702.7L957.4 703.6L960 703.9L965 702.8L966 702.7L968 703L974.3 704.1L976.2 704.2L978.1 704L981.1 703.2L987.4 700.1L990.6 698.9L994.5 698L998.5 697.6L1000.5 697.7L1002.3 698.2L1003.8 698.9L1008.7 701.9L1011.9 703.2L1013.5 703.4L1015.1 703.4L1016.7 703L1018.7 702.3L1020.6 701.2L1022.1 700L1028.3 693.9L1030 692.6L1031 692.4L1033.8 692.5L1035.4 692.4L1037.8 691.6L1039.6 690.5L1041.1 689.3L1047.3 683.6L1049.8 681.7L1052.9 680.2L1061.6 677L1064.1 675.7L1066.4 674.1L1069.9 671.4L1073.4 668L1083.4 658L1092.4 648.7L1095.1 646.2L1096.8 645L1099.2 643.9L1101 643.4L1103.5 644.6L1105 645.2L1106.3 645.3L1107.3 645.3L1110.1 644.5L1112.8 642.9L1114.7 641.1L1116.2 639.1L1121.5 629.2L1124.4 624.6L1126.7 621.3L1129 618.7L1131.4 616.3L1136.7 611.6L1138.3 610.4L1139 610L1140.5 610L1143.7 610.6L1147.1 611.5L1148.2 611.6L1149.7 611.6L1151.8 610.9L1154.9 608.7L1158.4 605.2L1163.6 599.1L1165.3 597.3L1167.3 595.8L1169.3 595L1170.7 594.8L1172.2 594.8L1175.4 595.5L1178.8 597L1180.5 598.1L1182.2 599.5L1184 601.3L1185.8 603.4L1188.2 606.6L1190.6 610.1L1205.5 636.4L1210 643.9L1211.9 647.3L1214.3 652.5L1219.3 666.1L1230.3 691L1235.8 704.6L1238.7 713L1245.2 734.6L1255.7 765.9L1264.2 794.5L1282.2 860.3L1288.7 880.9L1291.2 889.4L1295.7 906.1L1299.6 922.4L1303.2 934.3L1306.8 943.9L1308.4 947.6L1310.5 951.8L1312 954.3L1313.7 956.7L1317.9 961L1319.1 962.6L1321.5 966.5L1323.4 970.4L1325.7 976.4L1329.2 987.9L1332.2 996.8L1334.3 1002.2L1335.9 1005.7L1337 1007.8L1338.5 1009.7L1339.9 1011.2L1341.4 1012.4L1342.2 1012.9L1343.9 1013.6L1345 1013.7L1347.5 1013.8L1348.2 1014L1349.6 1014.9L1350.7 1016.1L1351.4 1017.3L1352.3 1019.3L1355.7 1029.6L1358.9 1037L1362 1043.2L1363.1 1045L1364.5 1046.5L1365.5 1047.3L1367.6 1048.1L1369.9 1048L1373 1047.1L1374 1046.7L1377 1044.6L1377.7 1045.1L1379.4 1046.8L1380.7 1048.5L1384.9 1055L1386.4 1056.7L1388.3 1058.4L1390.9 1059.8L1394.2 1060.6L1396.7 1060.6L1401.4 1059.6L1402.7 1060.1L1404.3 1061.2L1406.6 1063.2L1413.5 1070.7L1416.2 1073.2L1418.9 1075L1424.2 1077.8L1429.4 1081.7L1432.2 1083.4L1434.8 1084.2L1437.2 1084.2L1438 1084L1448.2 1080.8L1449.5 1080.6L1450.7 1080.8L1452.2 1081.4L1453.7 1082.5L1458.9 1088.4L1461.8 1090.8L1463.7 1091.9L1465.6 1092.6L1467.7 1093.1L1469.7 1093.3L1473.4 1092.9L1479.1 1091.4L1484.5 1091.3L1487 1091L1489.8 1089.9L1495.2 1087L1497.1 1086.5L1498.6 1086.4L1500.6 1086.6L1506.4 1088.6L1508.7 1089.2L1512.6 1089.7L1516.9 1089.8L1521.4 1089.6L1525.4 1089.2L1527.6 1088.6L1531.9 1087.1L1534 1086.6L1540.2 1086.1L1545.2 1086.2L1548.9 1086.7L1555.3 1090.5L1556.8 1091L1559.3 1091.3L1561.4 1090.9L1563.6 1089.9L1567.4 1087.2L1573 1083.8L1573.4 1084L1577 1087.3L1578.9 1088.7L1582 1090.2L1584 1090.8L1585.1 1091L1587.5 1090.8L1589 1090.4L1596.6 1086.7L1599.1 1086.3L1604.6 1086.6L1619.4 1089.1L1621.7 1089.3L1623.5 1089.3L1626.1 1088.9L1628.5 1087.9L1630.6 1086.3L1633.6 1083.6L1635.1 1082.6L1636.9 1081.9L1638.4 1081.8L1640.6 1082.1L1648 1084.6L1654.3 1085.6L1656.4 1086.1L1658.1 1087L1661.9 1089.9L1664.3 1091.3L1666.8 1092.3L1668.3 1092.5L1670.3 1092.6L1672.4 1092.4L1674.3 1091.8L1680.8 1088.7L1687.6 1086.6L1690.2 1085.6L1692.9 1084.2L1698.7 1080.4L1700.6 1079.7L1705.9 1082.3L1708.5 1083.2L1712.3 1083.4L1721.7 1082.6L1723.7 1082.6L1725.6 1082.9L1730.8 1084.9L1733.9 1085.5L1736.8 1085.3L1742.4 1083.7L1746.6 1082.7L1748.1 1082.5L1749.5 1082.6L1751 1083.1L1755.5 1085.8L1760.5 1088.2L1763.5 1089.2L1765.7 1089.5L1767.4 1089.3L1768.9 1088.9L1774.5 1086.4L1778 1085.6L1780 1085.5L1782 1085.8L1788.9 1088.5L1793 1089.1L1796.9 1089L1801.4 1088.5L1804 1087.9L1810.2 1086.1L1814 1085.7L1816.1 1085.8L1818.1 1086.2L1823.1 1088.3L1825.3 1088.8L1827 1088.8L1829.5 1088.3L1834.6 1086L1836.5 1085.6L1838.6 1085.4L1840.8 1085.7L1844.5 1087.5L1847 1088.4L1849.9 1088.8L1852.9 1088.9L1856.5 1088.4L1858.5 1087.8L1864.5 1085L1867.6 1084.2L1870.1 1083.9L1871.8 1084.2L1876 1086.2L1878.4 1087L1881.9 1087.6L1885.4 1087.7L1887.4 1087.5L1889.3 1087L1895.7 1084.5L1897.3 1084L1899.3 1083.7L1904.1 1083.5L1906.9 1083.2L1909.6 1082.5L1915.4 1080.5L1918 1080.2L1919.5 1080.4L1920.4 1080.8L1924.8 1086L1926.4 1087.1L1927.9 1087.9L1931.2 1089L1936.7 1090.3L1941.9 1090.4L1942.1 1083.5L1937.9 1083.5L1932.9 1082.3L1930.8 1081.6L1929.4 1080.8L1926.2 1076.8L1924.3 1075.1L1922.8 1074.3L1921.3 1073.7L1919.8 1073.4L1918.3 1073.3L1915.7 1073.4L1913.8 1073.8L1905.9 1076.4L1903.7 1076.6L1898.9 1076.8L1896 1077.2L1893.2 1078L1887.4 1080.4L1884.9 1080.8L1882.4 1080.7L1879.9 1080.3L1873.9 1077.7L1872.4 1077.3L1870.2 1077L1866.6 1077.4L1862.6 1078.4L1860.5 1079.1L1855.8 1081.4L1854.8 1081.7L1852.8 1082L1850.3 1081.9L1848.4 1081.6L1842.8 1079L1840.7 1078.6L1838.7 1078.5L1835.7 1078.7L1832.8 1079.3L1827.3 1081.7L1826.3 1082L1825.2 1081.7L1821.7 1080.1L1819.5 1079.4L1816.7 1079L1813.8 1078.8L1811.3 1079L1809 1079.3L1800.4 1081.6L1796.3 1082.1L1793.2 1082.2L1790.8 1081.8L1783.8 1079.1L1781.8 1078.7L1779.7 1078.6L1776.8 1078.8L1772.8 1079.7L1770.5 1080.5L1766.8 1082.3L1765.7 1082.6L1764.9 1082.4L1763.3 1081.9L1758.6 1079.6L1753.9 1076.9L1751.9 1076.1L1750.2 1075.7L1747.5 1075.6L1745.3 1076L1740.5 1077L1735.8 1078.5L1734.7 1078.6L1732.9 1078.3L1727.2 1076.2L1724 1075.7L1721.2 1075.7L1711.9 1076.5L1710.1 1076.4L1708.8 1076L1703.6 1073.4L1702 1072.9L1699.8 1072.8L1697.6 1073.3L1695.6 1074.2L1689.3 1078.3L1687.6 1079.2L1678.4 1082.2L1671.9 1085.4L1669.9 1085.7L1668.5 1085.5L1667 1085L1661.7 1081.1L1660.2 1080.2L1658.8 1079.6L1655.5 1078.8L1649.3 1077.8L1642.3 1075.5L1640.4 1075L1638.4 1074.9L1635.4 1075.2L1632.3 1076.3L1629.6 1078L1625.2 1081.9L1624.4 1082.2L1623.2 1082.4L1620.5 1082.3L1605.3 1079.7L1601.6 1079.4L1598.6 1079.4L1596.2 1079.7L1594.2 1080.2L1591.9 1081.2L1586.8 1083.8L1585.5 1084.1L1584.3 1083.7L1582.3 1082.7L1581.2 1081.9L1577.2 1078.2L1575.7 1077.4L1574.4 1077L1573.4 1076.8L1571.4 1077.1L1569 1078L1563.6 1081.4L1560.2 1083.9L1559.1 1084.4L1558 1084.1L1553.3 1081.2L1551.5 1080.3L1549.3 1079.8L1545.7 1079.3L1539.9 1079.2L1533.2 1079.8L1529.9 1080.5L1523.9 1082.4L1520.7 1082.8L1517 1082.9L1513.2 1082.8L1510.1 1082.5L1508.5 1082.1L1502.2 1079.9L1500.2 1079.6L1498.2 1079.5L1495.6 1079.8L1492.5 1080.6L1490.8 1081.5L1487 1083.6L1485.6 1084.2L1484.3 1084.4L1480.5 1084.4L1478.2 1084.5L1471.8 1086.2L1470 1086.4L1467.6 1086L1465.5 1085L1463.9 1083.7L1460.1 1079.2L1458 1077.1L1455.6 1075.4L1452.6 1074.2L1449.9 1073.7L1447.1 1074L1436.4 1077.3L1435.8 1077.4L1435.1 1077.1L1433.4 1076.1L1428.1 1072.1L1422.3 1069L1420.6 1067.9L1418.4 1065.9L1411.3 1058.2L1408.5 1055.7L1406 1054L1404.5 1053.3L1402 1052.7L1399.6 1052.9L1396 1053.7L1395.3 1053.8L1393.7 1053.4L1392.4 1052.8L1391.4 1052L1390.3 1050.7L1386.4 1044.7L1384.8 1042.5L1382.5 1040.1L1380.5 1038.6L1379.7 1038.2L1377.8 1037.6L1376.3 1037.6L1375.3 1037.8L1373.4 1038.7L1370.5 1040.7L1368.9 1041.2L1368 1039.8L1366.6 1037.3L1365.2 1034.2L1362.2 1027.3L1358.7 1016.7L1357.7 1014.4L1356.5 1012.3L1354.1 1009.6L1351.2 1007.8L1348.9 1007L1345.5 1006.8L1343.7 1005.2L1342.1 1002.7L1340.7 999.7L1338.7 994.6L1335.8 985.9L1332.2 974.2L1329.6 967.4L1327.5 963.1L1325 958.9L1323 956.3L1319.2 952.4L1317.9 950.7L1316.5 948.3L1314.6 944.6L1313.2 941.3L1309.8 932.1L1306.3 920.6L1302.3 904.4L1297.8 887.5L1295.3 878.8L1288.8 858.5L1270.8 792.5L1262.3 763.7L1251.8 732.4L1245.3 710.9L1242.2 702.1L1236.7 688.3L1225.7 663.5L1220.7 650L1218.1 644.2L1216 640.3L1211.5 633L1196.4 606.4L1193.9 602.6L1191.3 599.2L1188.9 596.5L1186.7 594.3L1184.7 592.6L1182.4 591.1L1180.1 589.9L1177.4 588.9L1175 588.2L1172.6 587.9L1170 587.9L1168 588.2L1165.9 588.8L1163.9 589.8L1160.9 592L1158.4 594.6L1153.5 600.4L1150.2 603.6L1148.8 604.7L1148.4 604.7L1145.1 603.8L1141.6 603.2L1139.8 603L1137.5 603.3L1135 604.3L1132.2 606.3L1126.7 611.2L1124.1 613.9L1121.4 616.9L1118.6 620.8L1115.6 625.7L1110.6 635.2L1109.5 636.7L1108.5 637.5L1107.3 638.2L1106.4 638.4L1103.5 637L1102.5 636.6L1100.4 636.5L1097 637.3L1095.1 638.1L1093.3 639.1L1090.7 640.9L1087.7 643.6L1078.5 653.1L1068.6 663.1L1065.2 666.2L1062.4 668.5L1060.7 669.6L1058.6 670.7L1050.3 673.8L1046 675.9L1042.8 678.4L1036.8 683.9L1034.6 685.5L1033.9 685.6L1029.8 685.5L1028.9 685.7L1026.7 686.5L1025.3 687.4L1023.6 688.9L1017.7 694.7L1015.6 696.1L1014.2 696.5L1013.5 696.4L1012.1 695.9L1007 692.8L1004.3 691.6L1001.2 690.9L998.2 690.7L993.3 691.2L988.6 692.3L984.8 693.7L978.7 696.8L977.1 697.2L974.9 697.2L969.1 696.1L966.4 695.8L964.2 695.9L959.6 697L959 696.9L958.2 696.6L957.2 695.9L955.3 693.8L953.5 690.9L950.1 684L948.3 680.9L945.1 676.3L942.8 673.9L940.7 672.6L939.6 672.2L938.1 671.9L935.8 672L932.3 672.5L931.4 672.4L929.4 671.5L927.7 669.9L926 667.3L922 659.5L918 652.5L915.4 648.5L913.8 646.2L912.1 644.3L906.4 639.1L904.3 636.7L903 634.8L899 626.9L897.8 625.2L896.1 623.3L893.1 620.9L891.6 620.1L890.1 619.6L887.2 619.3L883.1 619.7L881.5 619.3L879.9 618.2L877.8 615.7L876.1 612.8L874.7 609.7L869.8 594.5L866.2 585.5L862.5 577.8L857.9 569.3L855.8 566L853.7 563.1L851.5 560.4L849.3 558.1L847.3 556.2L845.5 554.9L840.5 553L839.7 552.5L838.8 551.5L837.1 548.6L834.7 543.4L832.3 536.8L829.8 529.3L825.8 515.4L824.2 510.6L822.5 507L820.9 503.9L818.7 500.6L816 497.1L813.7 494.7L811.7 493.3L810.2 492.4L808 491.6L805.1 491.4L800.6 492L793.9 493.2L792 493L789.6 492.4L786.4 491.2L781.2 488.7L770.4 481.9L768 481L766.2 480.8L764.5 481L762.3 481.8L760.4 482.9L758.9 484.1L757.6 485.3L756.3 486.8L751.9 492.9L750.9 493.9L750 494.4L748.9 494.8L748.3 494.8L743.9 493.6L741.5 493.3L739.7 493.4L737.4 494.2L734.5 496.4L732.5 498.6L730.6 501.4L725 512.9L720.6 520.4L718.7 523.1L717.4 524.7L715.1 526.8L712.8 527.9L710.2 528.6L708.1 528.6L700.8 528L698.3 528.2L696.3 528.6L694.2 529.5L692.2 530.8L690.9 532L689.1 534.1L686.4 538.3L684.3 542.6L679.3 557.2L676.9 562.7L675 566.4L673.6 568.6L672.3 570.4L664.8 578.4L663.1 580.5L661.6 582.7L659.8 586.5L655.9 596.2L652 603.7L649.1 608.4L647.1 610.9L642.9 614.3L641.1 615.9L638.5 619.4L637.3 621.6L636.3 623.9L631.8 636.4L630 640.2L628.1 643.3L626.3 645.9L624 648.5L622.2 650.2L617.8 653.7L615.5 655.8L613.2 658.3L611.1 661.2L608 666.3L600.9 679L595.4 689.6L591.4 698.7L590 701.2L588.2 704L587 705.4L585.9 706.4L580.5 709.5L576.8 712.1L574.8 713.8L573 716.2L571.8 718.3L570.7 720.9L566.7 732.9L563.8 740.7L561.9 745L560.6 747.3L553.7 756.5L547.2 766.9L545.2 769.2L543.6 770.5L541.8 771.4L541.1 771.6L537.1 771.7L534.1 772.6L531.8 773.7L529.9 775.6L527.8 779.1L525.7 784.1L523.2 791.5L520.2 801.7L519.4 804L518.7 805.2L517.8 806.2L515.4 807.7L510.9 809.3L509 810.4L507 811.8L505.1 813.6L503.3 816.4L502.3 818.8L501.7 820.8L499.2 831.7L496.2 842.6L494.8 847.1L493.6 849.6L492.1 851.2L489.2 852.4L485 852.9L482 853.8L479.7 855.1L477.8 857L475.5 861L473.3 865.9L470.7 872.3L467.3 882.5L466 885L464.8 886.4L462.9 887.7L461.5 888.2L457.2 889.2L454.5 890.4L451.3 893L448.7 895.9L446.7 898.8L445.3 901.3L437.9 920.3L436.6 922.7L435.6 923.9L434.8 924.5L431.9 925.6L427.5 926.4L425.5 927L423.4 928.1L420.9 930L418.4 932.6L416.4 935.4L414.9 938.5L411.9 944.8L410.7 946.9L408.5 949.6L407.4 950.6L406.3 951.3L404.1 952.4L401.9 953.3L399.1 954.1L396.4 954.7L394 955L388.2 954.7L384.3 954.9L381.8 955.4L380.9 955.7L378.7 957L376.8 958.8L374.6 961.7L371 967.2L367.6 973.4L366 975.5L364.8 976.7L363 977.9L358.2 981L353.8 983.5L351.5 985.2L348.9 987.7L343.5 994L339.8 997.6L338.4 998.5L337.7 998.8L331.6 999.3L326.3 1001L322.6 1002.6L319 1004.4L315.9 1006.1L312.7 1008L309.1 1010.7L305.9 1013.7L302.2 1017.9L297.3 1024.5L294.6 1027.4L293 1028.7L291.7 1028.8L287.3 1027.7L282.8 1027.3L280.1 1027.2L276.5 1027.7L271.8 1029.2L270 1029.2L268.7 1028.8L266.7 1027.9L261.7 1023.9L258.7 1022L256.6 1021.3L255 1021.1L253.3 1021.2L251.6 1021.6L249.5 1022.6L248 1023.6L246.6 1025L245.2 1026.7L243.8 1029.5L241.3 1036.1L240 1038.7L237.9 1041.7L236.4 1042.9L236.1 1042.9L235.4 1042.4L230.3 1036.1L228.8 1034.8L226.8 1033.5L225.2 1032.9L223.5 1032.5L222.3 1032.6L219.9 1033.2L218.4 1034.1L217.4 1034.8L216 1036.2L214.8 1037.7L213.4 1040.1L210.4 1046.5L209.6 1047.9L206.8 1051.7L205.7 1052.8L204.2 1053.2L202.6 1053.2L196.8 1052.8L193.5 1053.1L191.3 1053.9L189.3 1055L184.2 1058.5L182.7 1059.3L181.2 1059.7L175.4 1060.8L171.4 1062.2L169 1063.5L167.2 1064.8L165 1066.8Z" fill="#000000"/>
<path d="M159.2 960.5L154 960.5L154 967.4L160 967.4L161.3 967.1L162.3 966.6L170.7 961.4L175.2 959.2L179 957.9L184.2 956.5L191.4 955.3L194.7 954.2L198.3 952.3L205.2 948.1L209.9 945.7L220.2 941.5L229 938.7L233.4 936.8L235.3 935.7L237.1 934.4L243.1 929.3L245.4 927.9L248.1 927.2L254.4 926.5L256.6 926.1L259.4 925.3L262.2 924.1L265.3 922.3L269.3 919.8L272.2 917.7L278.5 912.6L280.2 911.5L281.7 910.8L283.7 910.2L287.8 909.6L294.6 909.4L297.4 909.1L301 908L304.5 906.4L308.5 904L313.3 900.5L315.9 898.1L321.3 892.7L324 890.6L326.8 889.1L334.5 886.4L337.8 884.6L341.1 881.6L345.9 876.2L348.4 874.3L353.5 871.5L372.9 862.7L375.6 861.2L378.4 859.5L380.6 857.8L383 855.6L399 838.6L403.7 834.2L406.6 832.3L412.4 829.8L415.4 828.3L419.9 825.3L423.4 822.5L425.6 820.3L427.3 818.3L428.9 816L433.8 808.3L440.1 800.5L447 793L459.4 780.7L466 773.5L475.6 762.3L481.1 755L483.4 752.6L489.9 746.4L493.2 742.8L496.3 738.9L502.7 730L506.1 725.8L515 716.1L520.5 710.5L523.6 706.7L527 701.7L539 681.1L543.9 673L547.3 668.2L556.3 656.4L564.9 643.3L567.7 639.2L571.1 635.1L578 627.5L581.3 623.7L584.4 619.6L590.8 610.1L593.7 606.2L596.6 602.9L603 595.9L606.2 592.2L609 588.1L614.4 578.6L616.2 576.2L617.3 575L618.9 573.8L624.1 571L626.8 569.3L629.1 567.2L630.9 565L632.1 563.1L633.6 560.1L637.7 550.5L642.6 539.8L644.5 536L645.9 533.7L648.5 530.3L654.9 524L657.8 520.7L660.4 517.1L666.4 507.8L670.8 501.6L679.2 490.1L685.6 482.1L690 477.1L696 470.9L702.4 464.5L713.8 454L726.5 440.4L730.3 436.6L732.6 434.6L734.2 433.6L735.6 432.9L737.1 432.6L741 432L744 431.1L747.3 429.3L752.9 425.1L754.8 424.1L756.5 423.6L758.4 423.6L761.6 423.9L766.3 425.7L768.6 426.3L779.6 428.1L781.3 428.7L785.4 430.4L787.9 431.2L790.3 431.5L795 431.9L796.5 432.2L799.2 433.5L803.2 436.6L804.9 438.4L807.8 442L809.7 444.1L812.4 446.4L818.8 451.3L820.6 452.9L822.3 454.9L824.7 458L829.1 464.6L837.2 477.8L838.9 480.1L840.9 482.5L843.8 485.4L847.5 488.6L849.7 490.1L853.6 492.4L855.3 493.7L857 495.3L859.3 498L862.2 501.9L865.5 507.1L872.4 520.2L877.6 528.9L883.2 537.4L884.9 539.7L886.6 541.8L887.9 543L889.4 544.1L892.4 545.8L896.3 547L900.6 547.4L901.3 547.7L902.2 548.3L903.9 550L906.8 553.6L909.6 557.5L915.3 566.3L917 568.4L919.2 570.6L922.3 573.4L927.8 577.8L938.8 586L945.6 592.6L948.2 595L951.6 597.3L955 598.6L957.9 599.1L960.8 599.3L970.5 599L973.7 599.1L978.4 599.8L985.3 601.1L989.7 602.2L992.2 602.5L995 602.1L997.7 601.2L1003 598.5L1007.2 596.2L1009.4 595.8L1013 595.6L1016.4 595.8L1021.2 597.6L1023.3 598L1026.2 598L1028.8 597.4L1032.4 595.9L1035.2 593.9L1037.2 591.7L1040.6 587.4L1042.2 585.8L1044.3 584.6L1050.3 582.6L1053.7 581L1057.3 578.4L1065.6 571.2L1067.3 570L1071.2 567.8L1073 566.6L1076 563.8L1081.4 558.1L1083.5 556.3L1084.3 555.8L1085.8 555.4L1088.4 554.9L1093.2 554.7L1095.9 554L1099.9 552L1108.1 546.7L1110.3 545.7L1116.2 543.6L1119.3 542.1L1122.1 540.4L1124.7 538.3L1131.2 532.8L1136.2 528.2L1137.9 526.9L1141.1 525.1L1147.7 522L1154.4 518.2L1155.5 517.8L1156.6 517.6L1158.4 518.3L1159.9 519.3L1161.1 520.4L1164.8 524.1L1166.2 525.2L1167.8 526.1L1169.5 526.7L1171 526.9L1177.5 526.6L1178.4 526.9L1179.9 527.8L1181.5 529.3L1182.7 530.7L1186.6 536.9L1188.8 539.6L1191.6 542L1195.5 544.6L1200.8 548.4L1202.5 550L1203.6 551.5L1204.9 553.8L1208.9 563.1L1213.9 573.3L1216.7 578L1222 585.7L1223.9 589.2L1225.8 593.3L1229.7 602.9L1234.2 617.3L1240.2 633.5L1243.8 644.4L1245.4 648.2L1249.4 655.8L1251.9 661L1254.8 667.9L1256.7 673L1272.7 721L1279.7 744.2L1287.7 768L1292.3 781L1306.8 820.8L1313.8 838.4L1320.9 854.5L1324.5 861.6L1331.9 874.7L1337.4 886L1339.6 890.1L1343.6 896.3L1347.9 902.1L1352.1 907L1358.6 913L1361.4 916L1363.2 918.4L1367.6 925.4L1369.3 927.8L1373.3 932.9L1376.9 936.5L1380.6 939.2L1388.8 943.5L1392 945.5L1394.2 947.3L1399.6 952.5L1405.2 957.4L1409.7 961L1411.6 962.1L1414 963.1L1416.2 963.8L1422.8 965.4L1425.5 966.6L1427.8 967.7L1431.3 970.1L1437.1 975.7L1439.6 977.8L1443.1 980.1L1446.8 982.2L1451.1 984.1L1455.4 985.3L1458.7 985.9L1466.9 986.7L1478.6 989.7L1486.9 990.9L1489.6 991.4L1492.2 992.3L1498.8 995.5L1500.7 996.2L1502.7 996.6L1506.5 996.7L1514.8 995.7L1518.1 995.8L1521.9 996.3L1528.2 997.6L1536.1 999.8L1540.2 1000.6L1542.9 1000.8L1548.8 1000.9L1551.6 1001.1L1559.7 1002.9L1563.6 1003.5L1567.4 1003.4L1575.1 1002.5L1580.4 1002.5L1584.2 1002.7L1588.2 1003.4L1597.7 1006L1603.9 1006.8L1608.5 1006.9L1614 1006.9L1623 1005.9L1625.2 1006.1L1631.1 1006.8L1634.9 1006.9L1637.8 1006.3L1642.6 1004.5L1645.9 1003.5L1646.7 1003.3L1647.6 1003.6L1652.7 1006.3L1659.2 1009L1663.7 1010.2L1668 1010.6L1672.3 1010.5L1677.2 1010.1L1679.9 1009.5L1686.3 1007.8L1690.5 1007L1692.6 1006.7L1695.8 1006.8L1705 1007.9L1716.4 1007.9L1726.8 1008.6L1733.2 1008.7L1736.7 1008.5L1739.5 1008.1L1746.6 1005.9L1751.5 1005.5L1754.1 1005.7L1756.1 1006.1L1764.5 1009.6L1769.5 1011L1773.6 1011.6L1776 1011.5L1778.6 1011.2L1790.5 1008.8L1793.2 1008.6L1796.4 1008.5L1803.1 1008.9L1814.7 1010.7L1826.2 1011.6L1834.9 1012.5L1840.9 1012.7L1847.1 1012.6L1850 1012.4L1855.3 1011.7L1857.4 1011.6L1859.4 1011.9L1864.3 1012.9L1867.4 1013.1L1870.9 1012.7L1876.7 1011.1L1879.2 1010.6L1881.7 1010.7L1889 1011.7L1895.3 1011.7L1905.4 1010.7L1915.9 1008.7L1922.4 1008.4L1925.6 1008.6L1928.1 1009L1930.8 1009.9L1936.8 1012.4L1938 1012.6L1942 1012.6L1942 1005.7L1938.5 1005.7L1933.4 1003.5L1930.1 1002.4L1926.6 1001.7L1922.7 1001.5L1919.2 1001.6L1915 1001.9L1904.5 1003.9L1894.9 1004.8L1889.7 1004.8L1882.5 1003.8L1878.4 1003.8L1875.1 1004.4L1869.3 1006L1866.9 1006.3L1865.5 1006.1L1860.4 1005L1857.3 1004.7L1854.5 1004.8L1849.2 1005.6L1846.9 1005.7L1841 1005.8L1835.2 1005.6L1826.8 1004.7L1815.4 1003.8L1803.7 1002L1796.5 1001.6L1793 1001.7L1789.7 1001.9L1777.5 1004.4L1775.2 1004.7L1773.7 1004.7L1770.7 1004.2L1766.7 1003.1L1760.4 1000.3L1757.7 999.4L1754.7 998.8L1751.7 998.6L1748.9 998.7L1745.6 999.1L1742.9 999.7L1738.2 1001.3L1736.2 1001.6L1732.9 1001.8L1727.1 1001.7L1716.5 1001L1705.2 1001L1696.4 1000L1692.1 999.9L1689.3 1000.2L1684.8 1001.1L1676 1003.3L1671.8 1003.7L1668.1 1003.7L1664.6 1003.4L1661.6 1002.6L1655.5 1000L1650.2 997.2L1648.7 996.7L1646.9 996.4L1645.3 996.6L1644 996.9L1640.3 998L1636 999.7L1634.3 1000L1631.8 1000L1625.9 999.2L1623.2 999L1620.1 999.2L1613.8 1000L1608.5 1000L1604.2 999.9L1599.2 999.3L1589.7 996.6L1584.9 995.9L1580.5 995.6L1575 995.6L1566.7 996.5L1564.2 996.6L1561.1 996.2L1555.3 994.8L1552.3 994.2L1541 993.7L1537.8 993.1L1529.7 990.9L1523.2 989.5L1518.7 988.9L1514.4 988.8L1506.3 989.8L1503.6 989.8L1501.3 989.1L1494.6 985.9L1491.2 984.7L1488 984.1L1480.2 982.9L1468 979.9L1459.4 979L1456.8 978.6L1453.7 977.6L1450 976.1L1446.8 974.3L1443.6 972.2L1435.9 965L1433.6 963.2L1431.3 961.8L1428.6 960.4L1425.3 959L1416.2 956.6L1413.4 955.1L1409.8 952.2L1404.3 947.4L1398.9 942.3L1396.2 940L1392.1 937.4L1384.2 933.3L1381.3 931.3L1378.6 928.4L1374.8 923.6L1368.9 914.6L1366.8 911.7L1363.4 908L1357 902.1L1353.2 897.7L1349.3 892.5L1345.5 886.5L1343.6 882.9L1338 871.4L1330.5 858.2L1327.1 851.5L1320.2 835.7L1313.2 818.3L1298.7 778.7L1294.3 765.8L1286.3 742L1279.3 718.9L1263.2 670.7L1261.2 665.2L1258.1 658.2L1255.6 652.7L1251.6 645.1L1250.2 641.8L1246.7 631.1L1240.8 615.2L1236.2 600.5L1232.2 590.5L1230.1 586.1L1227.9 582L1222.4 574.1L1220 570.2L1215.1 560.1L1211.2 550.9L1209.2 547.4L1207.4 545.1L1205 543L1199.5 539L1195.6 536.3L1193.5 534.5L1192.3 533.1L1188.1 526.4L1186.3 524.4L1184.3 522.5L1181.3 520.6L1178.7 519.8L1176.7 519.7L1171.6 520L1170.9 519.9L1169.3 518.9L1164.3 514L1161.4 512.1L1158.8 511L1157.1 510.7L1155.3 510.8L1153.3 511.3L1151.4 512L1144.4 515.9L1138 518.9L1134.3 521L1131.7 523L1126.7 527.6L1120.3 533L1118 534.8L1115.9 536.1L1113.7 537.1L1107.8 539.3L1105.1 540.5L1102.1 542.2L1096.2 546.1L1093.7 547.4L1092.4 547.8L1087.8 548.1L1084.4 548.7L1082.1 549.3L1079.9 550.4L1076.5 553.2L1071.1 559L1068.8 561.1L1067.7 561.9L1063.6 564.2L1061.3 565.7L1052.8 573.1L1050.1 575.1L1047.8 576.2L1041.5 578.3L1039.7 579.2L1038.2 580.2L1035.6 582.6L1031.9 587.3L1030.6 588.7L1028.9 589.9L1026.9 590.8L1025.5 591.1L1024.2 591.2L1023.5 591L1019.4 589.4L1017.2 588.9L1012.8 588.7L1008.4 589L1006 589.4L1004.5 589.9L995.1 594.8L993.6 595.4L992.4 595.6L991.1 595.4L986.6 594.3L979.6 593L974.5 592.3L970.4 592.1L961.1 592.5L958.9 592.3L956.8 591.9L954.7 591.1L952.6 589.7L943.1 580.7L932.1 572.4L926.7 568.1L923.9 565.6L920.8 562.1L915.4 553.7L912.3 549.4L909.2 545.6L906.5 542.9L905 541.8L902.8 540.8L900.5 540.4L897.2 540.1L895.3 539.5L893.3 538.5L891.5 536.9L888.8 533.5L883.4 525.2L878.5 516.9L871.5 503.7L867.9 498.1L864.6 493.6L862.1 490.7L859.9 488.5L857.5 486.8L853.4 484.2L851.6 483L848.3 480.2L846 477.9L842.9 473.9L834.9 460.8L830.4 454.1L827.8 450.6L825.5 448.2L823.3 446.1L816.7 441L814.4 439L810.2 433.9L807.7 431.4L805.2 429.3L803 427.7L800.7 426.4L798.7 425.6L795.7 425L790.9 424.7L789.3 424.4L783.5 422.1L781.2 421.4L770.2 419.6L768.6 419.2L763.2 417.2L761.3 416.9L758.8 416.7L755.1 416.9L751.9 417.8L748.9 419.4L743.6 423.4L741.6 424.6L739.7 425.2L735.7 425.8L733.1 426.5L730.5 427.7L728.2 429.3L725.6 431.6L721.5 435.6L709.1 449L697.7 459.5L691.1 466L685 472.3L680.4 477.6L673.7 486L665.2 497.6L660.7 503.9L654.6 513.3L652.3 516.6L650 519.2L643.4 525.7L640.2 529.8L638.4 532.8L636.4 536.9L631.4 547.7L627.4 557.1L625.2 561.1L624 562.5L622.4 563.9L620.8 565L614.9 568.1L612.9 569.7L611 571.6L608.5 575.1L603.1 584.5L600.7 587.9L597.9 591.3L591.5 598.3L588.4 601.8L585.1 606.1L578.7 615.6L575.8 619.5L572.9 622.9L566 630.5L562.2 635.1L559.1 639.4L550.7 652.4L541.8 664L538.1 669.3L533 677.6L521.1 698.2L518.2 702.5L515.4 705.8L510 711.4L500.8 721.4L497.2 725.8L490.7 734.8L487.9 738.4L485 741.5L478.6 747.6L475.8 750.5L474.2 752.5L470.3 758L460.9 768.9L454.5 775.8L442.1 788.1L434.9 796L428.3 804.2L421.8 814.2L418.7 817.4L416 819.6L411.8 822.4L409.5 823.5L403.2 826.3L400.9 827.7L399.2 829L396.6 831.3L394 833.9L378.1 850.7L376.3 852.4L374.5 853.8L370 856.4L350.6 865.2L347.4 866.8L344.7 868.4L343 869.6L341.2 871.2L336 876.9L333.9 878.9L331.7 880.1L324.1 882.8L322.1 883.7L320.3 884.7L316.6 887.7L311.1 893.1L308.8 895.2L304.6 898.3L301.3 900.3L298.7 901.5L296.3 902.3L294.3 902.5L287 902.8L282.5 903.4L279 904.4L276.6 905.6L274.6 907L265.6 914L261.7 916.4L259 917.9L256.8 918.9L255.2 919.3L246.7 920.4L244.7 920.9L242.8 921.5L240.9 922.5L239 923.7L232.8 928.9L230.4 930.6L226.8 932.2L217.7 935.1L207 939.5L201.7 942.1L194.8 946.4L192.1 947.9L189.8 948.6L182.6 949.8L177.1 951.3L172.6 952.9L169.9 954L167.4 955.3Z" fill="#ff0000"/>
<path d="M160 883.3L161.7 882.9L166.2 880.3L168.8 878.5L171.2 876.3L175.6 870.9L177.3 869.1L178.7 868.1L180.1 867.5L181.4 867.3L185 869.1L185.9 869.4L189.4 870.1L192.4 870.2L195.1 869.8L196.8 869.1L198.3 868.1L199.3 867.2L208.9 856.6L209.9 855.8L211.1 855.2L212.4 854.9L216.5 854.7L219.1 854.3L221.9 853.3L227.7 850.8L229.1 850.4L230.5 850.3L232.3 850.5L234.2 851L238.6 853.8L241.9 855.1L245.3 855.5L246.8 855.4L248.6 854.9L250.2 854.1L251.6 853.1L257.5 847.5L260.3 845.8L269.3 840.6L277 834.6L279.3 833.2L280.8 832.9L282.7 832.9L286.5 833.5L290.6 835.3L292.1 835.7L293.3 835.8L295.7 835.5L297.9 834.6L300.3 832.9L302.3 831.1L306.3 825.4L306.9 824.6L309 822.8L309.8 822.4L310 822.4L313.7 825.6L317.4 828.5L319.9 830L322.1 830.6L324.3 830.8L326.5 830.5L328.1 830L329.6 829.1L330.6 828.3L332.1 826.7L333.3 825L336.6 819.6L341.5 810.1L343.3 807.4L346.1 804.1L350.1 800L353.9 795.7L355.6 794.2L356.4 793.7L357.7 793.3L362.1 792.9L367 792.9L368.5 792.7L370.1 792.2L372.1 791.2L374 789.9L384.1 781.6L386.4 780.2L388.8 779.4L392.8 778.7L396 779.1L397.8 779L398.9 778.7L400.4 778L403 776.1L405.3 773.6L407.5 770.6L409.1 767.9L412.5 761.2L415.9 755.5L418.3 751.9L420.5 749.1L422.7 747.4L436 740.6L438.8 738.5L441.1 736.2L443.6 732.3L446.6 726.5L451.6 714.4L453.3 711.6L455 709.6L456 708.8L456.5 708.7L461.5 709.7L462.4 709.7L466 709.2L467.6 708.7L468.6 708.2L469.3 707.6L471.3 705.7L472.6 703.8L474.2 700.6L482.1 681.5L483.5 679L484.7 677.2L485.9 675.9L487.4 674.7L492.8 672.4L495.2 670.7L497.8 667.8L501.7 662.5L503 660.9L504.8 659.3L510.5 654.6L512.5 652.5L514.3 650.1L517 645.3L519.6 639.7L524.2 627.1L525.6 623.8L529 617.2L532.2 612.2L534 610.1L535.8 608.4L551.2 596.1L553.8 593.6L556.6 590.6L559.5 586.3L564.6 577.4L571.5 564.2L572.8 562L574.1 560.4L575.9 558.8L581.5 555.6L586.5 552L588.8 550.1L591.1 547.4L593 544.5L595 540.7L598.7 532.4L600.3 527.6L602.8 519.1L605.7 510.2L607.1 506.6L607.9 505.1L608.4 504.6L609 504.3L612.8 503.7L616.6 503.5L619.1 502.9L620.7 502.1L622.2 500.9L624.1 498.6L626 495.6L627.2 493L628.3 489.6L631.3 479.4L632.6 476L634.5 472.4L635.7 470.7L636.7 469.6L638.3 468.5L642.6 466.2L644.4 464.8L645.7 463.5L648.4 459.6L653.5 450.2L655.8 446.5L657.9 444.2L663.4 439.3L666 436.1L668.1 432L670.7 425.6L673.7 416.5L675.1 413L676.9 409.8L678.7 407.3L680.2 405.7L681.4 405.2L686.6 405.9L688.6 405.9L690.9 405.3L693.5 404.2L695 403.2L696.5 401.7L697.8 400L699 398L701.6 392.2L704.3 385.6L707.2 376.5L708.1 374.4L708.8 373.3L709.7 373.5L710.6 374L714.8 377.2L716.4 378L717.7 378.4L719.3 378.8L721.3 378.7L723.3 378.1L724.9 377L726.8 374.7L728.7 371.1L731.7 364L735.2 354.5L736.8 351.6L738 350.1L741 347.2L746.5 341.3L748.2 339.6L750.5 338.1L751.8 337.7L752.5 338L753.6 339L756.2 341.7L759.8 345.1L761.9 346.7L763.9 347.5L764.9 347.7L766.3 347.7L767.8 347.3L768.7 346.9L776 343L776.7 342.7L777.2 342.7L778.5 343.2L781 344.8L787 350.3L788.9 351.7L790.9 352.6L794.4 353.8L797.9 354.4L800.8 354.4L805 354L806.8 354.2L809.3 355.2L811.6 357L813.9 359.3L815.6 361.8L828.6 382.7L831.2 386.4L833.8 389.8L836.1 392L838.3 393.3L840.6 394.1L844.8 394.4L845.6 394.7L847.8 396L849.1 397.5L850.4 399.9L851.7 403.5L855.7 416.3L858.7 427.8L859.4 429.6L860.4 431.6L862.3 434L865.2 436.4L868.2 438.3L873 440.4L874.9 441.6L878.5 444.8L881.2 448L884 452.2L887.4 458.4L889.9 463.3L895.5 476.5L897.2 479.7L899 482.2L900.4 483.5L901.9 484.6L903.5 485.4L905.9 486L907.6 486L908.6 485.8L913.9 484L916.1 484L917 484.2L918.4 484.9L920.5 486.9L922.7 489.6L929.7 500.7L933.2 505.5L936.4 509.2L938.7 511.3L942.9 514.2L944.6 515.6L950.9 522.7L955.5 526.9L957.5 528.4L959.3 529.5L961.3 530.2L963.2 530.7L966.9 531.2L970.2 531.3L973.5 531.1L977 530.6L978.7 530L980.2 529.3L984.8 526.1L986.7 525.6L989.1 525.4L991.4 525.6L995.4 527.9L999.5 530.1L1001 530.5L1002.2 530.7L1004.2 530.4L1006.7 529.4L1008.9 528.2L1012.4 525.9L1017 522.4L1018.5 521.5L1020.3 520.9L1026 519.9L1028.9 518.8L1031.7 517L1036 513.4L1039.8 511.5L1041.9 510.8L1043.1 510.5L1048.6 511.7L1051.1 511.5L1052.8 510.8L1055.3 509L1058.4 505.3L1060.6 502L1064.9 493.7L1067.5 490.4L1069.2 488.9L1070.4 488.5L1072.2 488.5L1075.5 489L1079.2 490.6L1080.2 490.8L1082.6 490.9L1084.2 490.6L1086.2 489.8L1088.1 488.7L1089.9 487.2L1091.6 485.5L1093.1 483.7L1096.1 479.3L1097.7 476.1L1100.7 468.5L1102.1 465.5L1103.3 463.4L1104.5 461.9L1105.6 461L1106.3 460.6L1106.6 460.6L1110.9 461.8L1112.4 461.8L1113.8 461.6L1116.5 460.4L1118.9 458.7L1121.7 455.9L1124.3 452.4L1125.7 449.9L1128.6 443.3L1130 441.2L1131.5 439.9L1134.8 437.9L1136.9 436.4L1143.8 429.3L1147.5 426.3L1148.2 426L1148.7 426.2L1151.7 428.5L1155.6 430.9L1157.6 431.6L1159.8 431.7L1161.6 431.1L1162.6 430.6L1165.6 428.2L1167.9 425.6L1171.5 420.3L1172.5 419.4L1173.3 419L1174.5 418.7L1175.8 418.7L1177.2 419.3L1179.2 420.7L1180.9 422.5L1186 428.4L1187.8 430.1L1192.6 434L1194.8 436.3L1196.6 439L1199.9 445.1L1203.9 453.6L1205.9 457L1207.2 458.5L1209.1 460.2L1210.9 461.3L1214.7 463.3L1216.5 464.8L1218.3 466.9L1219.5 468.8L1221.8 473.3L1224.2 480.1L1227.7 491.5L1237.7 528.5L1242.7 545.2L1245.8 553.6L1253.8 571.4L1256.2 577.8L1258.2 585.2L1261.6 600.1L1269.6 635.8L1270.7 639.9L1272.3 644.9L1273.8 649.2L1275.9 654.1L1282.9 667.9L1285.3 673.5L1287.3 678.5L1289.6 686.3L1293.2 702.5L1294.2 706.5L1296.2 712.9L1298.3 718.8L1301.3 726.6L1307.3 739.8L1309.3 744.6L1318.7 773.6L1320.8 779.6L1322.3 783.2L1323.9 786.4L1328.5 793.8L1329.9 796.4L1334.8 808.2L1336.4 811.6L1338 814.4L1339.9 816.7L1342.4 818.7L1346.8 821.4L1347.9 822.4L1349.6 824.7L1351.5 827.7L1353.3 831.5L1354.8 835.2L1357.2 842.4L1358.8 846.3L1361.2 850.6L1363.5 853.3L1366 855.2L1367 855.7L1368.7 856.2L1371.5 856.3L1376.3 855.6L1376.9 855.7L1377.6 856.1L1379.1 857.4L1381.4 859.8L1387.4 867.7L1388.7 869.1L1390.5 870.6L1392.5 872.1L1394.7 873.5L1400 876.1L1403.1 877.2L1408.9 878.7L1411.6 880L1414 882.2L1422.9 892.1L1424.2 893.3L1425.6 894.3L1428 895.1L1429.2 895.3L1430.7 895.2L1436.4 893.6L1440.4 892.2L1441.3 892.1L1443.1 892.1L1445 892.6L1447.8 893.8L1451.6 896.1L1456.9 899.8L1463.9 905.3L1467 907.6L1469.5 908.8L1472.3 909.5L1474.9 909.6L1477.2 909.5L1485.3 908.1L1493 907.9L1498.7 908.1L1501.9 908.5L1503.5 908.9L1509.5 911.6L1512.9 912.7L1516.8 913.4L1520.3 913.5L1524.7 913.1L1529.1 912.1L1533.2 910.7L1537.5 908.3L1539.2 907.5L1541.3 907L1542.3 907L1544.2 907.5L1546.3 908.6L1550.5 911.3L1554.3 914.4L1556.5 915.9L1558.8 916.9L1560.9 917.2L1563.2 916.8L1564.7 916.2L1568.4 914.5L1574.3 911.5L1576.4 910.8L1577.8 910.5L1579.3 910.7L1584.5 913.2L1587.8 914.2L1591.6 914.8L1593.6 914.8L1595.1 914.6L1597.1 914L1599.5 912.8L1606.3 908.6L1612.9 905L1615.8 904.1L1619.1 903.7L1623.5 903.9L1625 904.3L1626.6 904.9L1627.6 905.6L1630.9 909.3L1633.2 911.2L1636.5 913L1638.6 913.6L1640.1 913.8L1642.9 913.6L1647.4 912.2L1648.8 911.9L1650.8 911.9L1657.5 912.5L1661.4 912.3L1664.6 911.5L1670.9 909.4L1682.7 906.8L1690.3 904.5L1693.1 904.2L1703.1 904.7L1712.7 903.9L1716 904L1716.8 904.3L1721.1 907.2L1724.1 908.5L1726.5 909L1727.6 909L1729.3 908.6L1730.3 908.2L1735.2 905.1L1736.8 904.4L1739.3 903.6L1739.8 903.8L1743.9 906.8L1746.7 908.3L1749.3 909.3L1750.3 909.5L1752.1 909.6L1754.6 908.9L1756.6 907.8L1758.3 906.5L1760.1 904.8L1761.6 903L1764.7 898.4L1765.9 897.5L1766.5 897.3L1767.6 897.5L1769.6 898.7L1771.7 900.3L1775.5 904.1L1777.4 905.6L1780.2 906.8L1785.5 908.1L1786.5 908.7L1791 912.4L1794.4 914L1797 914.6L1799.6 914.4L1800.7 914L1802.3 913L1803.6 911.8L1808.1 906.6L1811.1 902.9L1812.1 901.9L1812.6 901.6L1813.7 901.4L1826.2 902.1L1829.4 902.6L1832 903.2L1834.1 904L1836.4 905.1L1841.3 907.7L1845.7 910.4L1848.3 911.7L1851.9 913.1L1854.7 913.5L1857.2 913.2L1859.8 912.2L1864.1 909.5L1868.4 906.2L1869.9 905.5L1871.2 905.3L1871.8 905.4L1872.7 905.8L1877.8 910L1880.2 911.5L1883.8 913L1886.8 913.5L1890.8 913L1896.2 911.7L1898.5 911.3L1916.9 908.9L1921.6 908.5L1929.9 908.6L1933.2 908.2L1937.9 907.2L1942 907.2L1942 900.3L1936.8 900.4L1932 901.4L1929.3 901.7L1921.5 901.6L1916.1 902L1897.4 904.5L1894.7 904.9L1889.4 906.3L1886.9 906.5L1885.6 906.3L1883.6 905.5L1882 904.5L1878.2 901.3L1876 899.7L1873.8 898.7L1871.1 898.4L1868.4 898.8L1865.9 899.7L1864.4 900.5L1860 903.9L1856.5 906.1L1855.3 906.5L1854.7 906.6L1853.4 906.3L1850.9 905.4L1844.6 901.7L1839.6 899L1836.7 897.6L1833.8 896.5L1830.5 895.8L1827 895.3L1813.7 894.5L1810.9 894.9L1809.9 895.3L1807.6 896.7L1805.8 898.4L1802.9 902.2L1798.6 907.1L1798 907.6L1797.5 907.7L1796.8 907.6L1794.4 906.4L1790.7 903.3L1788.8 902.1L1786.7 901.2L1782.5 900.3L1781.2 899.8L1780.3 899.1L1776.1 894.9L1773.6 893L1770.7 891.4L1768.4 890.6L1766.1 890.4L1763.5 891L1761.2 892.2L1760.5 892.8L1759.1 894.3L1756.2 898.8L1755 900.2L1752.7 902.1L1751.5 902.7L1751 902.6L1749.5 902L1747.4 900.8L1743.6 898L1742.7 897.5L1740.1 896.7L1737.5 896.9L1734.1 898L1731.6 899.2L1727 902.1L1726.5 902L1724.2 901L1720.5 898.4L1719 897.7L1716.8 897.1L1712.5 897L1703 897.8L1695.7 897.3L1692.7 897.3L1688.9 897.8L1681.1 900.1L1669.3 902.7L1662.5 905L1660.4 905.5L1657.7 905.6L1651.3 905L1648.5 905L1645.8 905.4L1641.7 906.8L1640.5 906.9L1639.2 906.6L1637 905.4L1635.9 904.5L1632.1 900.3L1631.1 899.6L1629.6 898.7L1627.2 897.7L1624.7 897.2L1621.3 896.8L1618.7 896.8L1616.4 897L1614.1 897.4L1611.7 898.1L1610 898.8L1602.8 902.6L1596.3 906.7L1593.7 907.8L1592.1 907.9L1589.3 907.5L1587.2 906.9L1581.3 904.1L1579.8 903.8L1577.6 903.6L1574.9 904.1L1571.9 905L1569.3 906.2L1565.5 908.3L1562.2 909.8L1560.6 910.2L1558.6 909L1554.4 905.6L1549.9 902.7L1546.6 901.1L1543.9 900.3L1540.9 900.2L1538.6 900.5L1536.6 901.2L1534.6 902.1L1530.1 904.5L1527.1 905.5L1523.5 906.3L1519.9 906.7L1517.4 906.5L1514.4 905.9L1512.3 905.3L1508 903.2L1505.8 902.3L1502.9 901.7L1499.4 901.3L1492.9 901L1484.9 901.2L1482.3 901.5L1476.6 902.6L1473.4 902.7L1472.1 902.5L1470.8 901.8L1468.1 899.9L1461 894.3L1455.3 890.3L1451 887.6L1447.2 886L1443.6 885.2L1440.3 885.2L1438.4 885.7L1434.5 887L1429.9 888.3L1429 888.2L1427.9 887.4L1418.9 877.4L1417.2 875.6L1415.2 874.1L1413.3 873.1L1411.3 872.2L1405 870.6L1402.8 869.8L1398.2 867.5L1394.7 865.2L1392.7 863.2L1386.5 855.2L1383.7 852.3L1381.1 850.2L1379.6 849.4L1377.1 848.8L1374.9 848.8L1371.2 849.4L1369.9 849.4L1369.3 849.1L1368.3 848.4L1366.9 846.6L1365.1 843.5L1363.7 840.1L1361.3 832.9L1359.7 828.9L1357.6 824.6L1355.5 821L1353.2 818L1351.4 816.2L1349.4 814.8L1346.4 813.1L1344.9 811.9L1343.8 810.6L1342.6 808.6L1336.1 793.4L1334.4 790.3L1330 783.2L1328.6 780.5L1327.2 777L1315.8 742.2L1313.6 737L1307.7 723.9L1304.7 716.3L1302.8 710.8L1300.8 704.5L1299.9 700.9L1296.3 684.6L1295.3 680.8L1293.7 676.1L1291.7 670.8L1289.2 665.1L1282.2 651.2L1280.2 646.6L1278.8 642.6L1276.4 634.3L1268.4 598.5L1264.9 583.6L1262.8 575.9L1261.7 572.5L1260.2 568.8L1252.2 551L1249.3 543.1L1244.3 526.6L1234.3 489.5L1230.8 478L1228.2 470.6L1227 468.1L1225.4 465L1223.6 462.5L1221.6 460.2L1220.4 459L1218.5 457.6L1213.1 454.5L1211.3 452.8L1210.1 450.5L1206 441.8L1202.5 435.5L1200 431.8L1197.2 428.8L1190.9 423.6L1186.2 418L1183.5 415.3L1180.5 413.2L1179 412.5L1177.5 412L1176 411.8L1173.9 411.8L1171.1 412.4L1168.8 413.6L1166.7 415.4L1165.1 417.3L1162.3 421.6L1160.6 423.4L1158.8 424.8L1155.5 422.7L1152 420.2L1149.6 419.1L1148.2 419L1146.3 419.3L1143.8 420.5L1139 424.4L1132.3 431.2L1127.2 434.5L1124.8 436.6L1123.5 438.3L1122.5 440.1L1118.5 448.7L1116.5 451.4L1114.3 453.5L1112.9 454.5L1111.9 454.9L1108 453.8L1106.8 453.6L1105.3 453.7L1104.2 454L1101.7 455.3L1099.7 457L1097.6 459.6L1095.9 462.4L1094.3 465.9L1091.4 473.4L1090 476L1087.7 479.4L1085.2 482.2L1083.1 483.7L1081.8 484L1081.3 484L1077 482.3L1072.5 481.6L1069.2 481.7L1067 482.3L1065.5 483.1L1064.1 484.1L1062.6 485.5L1060.7 487.7L1059 490.1L1057.5 492.8L1054.5 498.7L1052.7 501.4L1050.5 503.9L1049.5 504.7L1048.9 504.8L1045.4 503.9L1043.3 503.6L1040.4 504L1037 505.1L1034.5 506.3L1032.3 507.6L1027.4 511.5L1025.8 512.7L1024.2 513.2L1018.4 514.3L1015.2 515.4L1012.9 516.8L1008.5 520.2L1005.2 522.4L1003.5 523.3L1002.4 523.7L998.7 521.9L995.8 520.1L994 519.2L991.7 518.6L989.2 518.4L985.6 518.8L982.5 519.6L980.3 520.8L976.7 523.3L975.6 523.8L972.6 524.3L970 524.4L967.3 524.3L964.6 524L962.5 523.3L959.7 521.5L956 518.1L951.6 513L949.2 510.4L946.9 508.5L943.1 506L941.5 504.5L938.7 501.3L935.3 496.7L928.3 485.6L925.7 482.3L922.9 479.7L920.3 478.1L918.7 477.5L916.7 477.1L913.3 477.1L911.9 477.4L906.8 479.1L905.4 478.6L904.1 477.5L902.9 475.9L901.6 473.4L896.2 460.5L893.6 455.3L890 448.8L886.6 443.7L883.4 439.9L879 436.1L876.2 434.3L871.6 432.4L869 430.7L867.5 429.5L866.4 428.1L865.3 425.6L862.3 414.4L858.3 401.4L856.7 397.2L854.7 393.6L853.4 391.9L852 390.6L850.7 389.6L848.7 388.5L845.7 387.6L842.1 387.3L841.3 387.1L840.6 386.7L839 385.3L836.8 382.4L834.4 379L821.3 357.8L819 354.7L816.2 351.9L814.4 350.4L812.5 349.2L810.5 348.2L808.6 347.5L805.3 347.1L800.4 347.5L798.8 347.5L795.8 347L793.3 346.2L791.2 344.9L786.9 340.8L784.8 339.1L781.2 336.9L778.3 335.9L775.8 335.8L774.2 336.2L772.9 336.8L765.5 340.8L764.3 339.8L760.9 336.7L758.3 334L756.2 332.2L754.2 331.2L751.7 330.8L749.3 331.2L747.8 331.7L745.7 332.9L743.9 334.3L741.5 336.5L736 342.4L733.1 345.3L731.3 347.4L730.1 349.3L728.9 351.7L725.3 361.5L722.4 368.3L721.1 370.8L720.4 371.8L720.2 371.9L719.5 371.8L718.4 371.3L714.6 368.4L711.9 367L710.4 366.6L708.7 366.4L706.8 366.7L705.4 367.3L703.7 368.7L703.1 369.4L701.8 371.5L700.7 374.2L697.8 383.3L695.3 389.4L692.9 394.6L691.4 397.1L689.8 398.3L688 399L686.7 399L681.9 398.3L680.4 398.4L678.7 398.8L677.1 399.5L676.1 400.2L673.2 403.1L671 406.3L668.8 410.3L667.2 414.3L664.3 423.1L661.8 429.1L660.2 432.4L658.5 434.5L653 439.3L650.3 442.3L647.5 446.9L642.5 456L640.4 459.1L638.7 460.6L634.6 462.7L632 464.5L630.2 466.5L628.4 469L626.4 473L624.8 477.1L620.8 490.4L619.9 492.3L618.7 494.4L617.6 495.8L617 496.2L616.1 496.6L612 496.9L606.6 497.8L605.1 498.5L604.1 499.2L602.7 500.6L601.9 501.7L600.8 503.9L599.2 508L596.2 517L593.7 525.5L592.3 529.9L588.9 537.5L587 541.1L585.7 543.1L584 545.1L582.4 546.5L577.6 549.9L571.8 553.2L569 555.7L567.3 557.9L565.6 560.6L558.5 574.1L553.6 582.8L551.3 586.2L549 588.6L546.7 590.7L531.1 603.3L528.9 605.5L526.7 608.1L525.1 610.5L523.1 613.8L519.4 620.8L517.8 624.6L513.3 636.9L510.9 642L508.6 646.2L507.3 647.9L505.7 649.7L500.3 654L497.9 656.3L496.2 658.3L492.3 663.6L490.6 665.5L489.5 666.4L485.8 667.8L483.3 669.1L481 671.1L479.2 673.1L477.4 675.6L475.8 678.7L467.9 697.8L466.5 700.5L465.9 701.5L464.7 702.4L462.1 702.8L457.6 701.8L456.1 701.8L455 701.9L452.7 702.8L451.2 703.7L449.9 705L447.5 707.8L445.5 711.1L440.4 723.5L437.5 729L435.7 731.9L434.3 733.3L432.2 734.8L419.4 741.4L417.6 742.5L415.7 744.2L412.8 747.7L410 751.9L406.5 757.8L401.6 767L399.9 769.4L398.2 771.1L396.6 772.2L394 771.8L391.9 771.9L387.4 772.6L383.4 774L380 776.1L369.9 784.3L367.6 785.8L366.3 786L361.7 786L356.7 786.5L354 787.2L351.7 788.5L348.9 791L345 795.3L341 799.4L337.9 803.1L335.4 806.8L330.5 816.3L327.6 821.1L326.1 823.1L325.2 823.7L324 823.9L322.5 823.5L318.2 820.4L314.3 817L312.6 816L311.4 815.6L310.2 815.5L308.7 815.6L307.7 815.8L306.2 816.5L304.8 817.4L302.3 819.5L300.6 821.4L297.4 826.3L295.9 827.6L294.4 828.6L293.8 828.8L292.7 828.7L288 826.7L283 826L280.5 826L278.4 826.3L276.9 826.8L275 827.7L272.8 829.1L265.6 834.8L256.8 839.8L253.6 841.8L251.6 843.5L247.3 847.7L245.8 848.6L245.1 848.6L243.4 848.4L242.1 847.8L238.6 845.5L236.4 844.5L233.4 843.6L230.2 843.4L227.6 843.6L225.6 844.2L219.2 847L217.2 847.7L211.3 848.1L208.5 848.8L206.5 849.8L204.3 851.4L194.6 862.2L193.5 863L192.3 863.3L190.4 863.2L187.6 862.7L184.1 861L182.1 860.5L179.8 860.5L177.6 861L175 862.3L172.5 864.2L170.3 866.5L166 871.7L164.4 873.2L162.7 874.3L159.1 876.4L154 876.4L154 883.3Z" fill="#008000"/>
<path d="M159.1 803.1L154 803.1L154 810L160 810L161.9 809.5L172.7 802.6L174.4 801.8L178.7 800.2L181.2 799.1L189.7 793.9L192.8 792.3L195.5 791.7L200.7 791.3L203.4 791L205.9 790.2L207.8 789.4L211.1 787.2L214.8 783.7L216.7 781.6L219.7 777.1L220.9 775.7L223.9 773.3L226.1 772.1L227.4 771.8L228.8 771.9L233.4 773.2L237.7 774.9L240.1 775.4L242.1 775.3L244.1 774.9L246 774.4L247.8 773.7L250.7 772L253.1 770L255.2 767.6L261.5 759.6L265.2 756L266.8 754.9L268.7 754.5L276.2 755L278.8 754.8L280.9 754.2L283.8 752.6L293.4 745.4L294.7 744.8L296.5 744.8L300.2 745.5L303.9 746.5L306 746.8L309.5 746.8L312.2 746.1L313 745.7L315.1 744.1L316.9 742L321.3 735.4L322.6 733.6L325.9 730.2L327.5 728.9L328.2 728.7L332.3 730L336.8 730.9L339.1 730.9L341.2 730.5L343.5 729.6L345.7 728.6L355.7 722.9L358.8 721L361.6 719L364.7 716L367.5 712.2L369 709.6L369.7 708.1L371.8 701.4L372.6 699.2L375.2 695.3L376.4 694L377.3 693.2L378.1 692.9L379.3 692.7L380.7 692.7L385.1 693.2L388.9 693L390.4 692.6L391.9 691.9L393.3 691L394.8 689.7L397.3 686.9L399.5 683.8L404.3 674.6L406.6 671.7L408.9 669.3L411.6 667L413.6 665.7L415.2 665L420 663.6L423 662.2L425.6 660.3L427.9 657.8L430.1 654.5L431.7 651.3L433.3 647.3L435.7 640L437.1 636.7L440.3 631.2L442.9 628L444.4 626.8L445.7 626.1L451.6 624.9L454.9 623.6L458.3 621.4L461.5 618.6L466 613.9L469.7 609.2L474.4 602.3L478.4 595.2L479.7 593.3L482.5 590.1L484.7 588.1L486.1 587.1L487.5 586.5L488.9 586.3L493.3 585.9L497 585L499.5 583.5L501.8 581L504 577.8L506 574.1L511.6 560L515 553L517.4 549L520 545.6L525.9 539.7L528.9 536.2L531.4 532.4L538.4 520.9L542.3 515.3L545.2 511.4L548 508.2L557.9 498.6L560.9 495L562.4 492.7L563.6 490.3L568.1 479.3L570 475.8L571.8 473L572.8 471.8L573.5 471.4L574.2 471.2L577.9 470.8L580.1 470.1L583.6 468.2L585 467.1L586 466L587.3 464.2L588.6 461.6L592.2 450.8L595.6 443.2L596.8 441.1L598.6 439.3L603.3 436.3L606.2 433.7L607.4 432.1L608.9 429.6L614 419.3L616.3 415.8L619.5 412L625.4 406.1L630.6 401.3L633.3 398.1L635.5 394.4L640.5 385.3L645.4 377.7L651.3 369.2L658.7 359.7L662.4 354.4L665.6 348.4L672.1 335L678 323.9L682.9 315.6L688.3 307.8L690.6 304.8L692.9 302.5L700.1 297L703.6 293.6L706.7 290L714.7 279.7L720.1 273.3L722.9 270.3L724.7 268.8L726.4 267.6L732.7 264L735.6 262.2L737.9 260.4L740.4 258L744.2 253.6L750.2 246.1L756.7 237L759.4 233.8L761.1 232.4L762.1 231.7L763.3 231.3L764.5 231.2L765.1 231.3L765.9 231.8L769.9 236.2L773.7 239.6L775.4 240.8L777.1 241.6L779 242L780.5 242L786 240.7L788.8 240.6L790.1 240.8L792 242L796.3 245.3L802.5 251.1L809.9 259.5L814.3 264.9L817 267.7L820.9 270.4L828.2 274.3L833 277.5L836.2 279.9L838.4 282.1L839.6 283.7L840.4 285.1L842.3 289.3L844.2 295.2L847.7 308.7L849.3 314L850.8 318.1L852.3 321.8L853.6 324.3L855.1 326.6L858 330.3L863.8 336.7L870.6 346.9L873.7 350.7L875.2 352L877.2 353.3L882.6 355.4L883.7 355.9L884.7 356.7L886.4 358.4L888.2 360.7L890 363.5L895 372.6L897.4 376.3L900.1 379.5L906 385.1L908.2 387.8L909.5 389.8L910.9 392.4L915.9 403.7L921.9 416.4L924 420.2L926.4 423.5L929.6 426.9L933.4 429.8L936.1 431L940.3 432.2L941.2 432.7L942.7 434.6L948.1 443L950 445.6L951.7 447.4L953.5 449L955.1 450L957 450.7L958.9 450.9L960.3 450.6L962 449.8L963 449.1L967.1 445.7L968.9 445L970.4 444.7L972.4 444.7L974.4 445.3L983.9 449.3L985.7 450.3L989.9 453.2L993.9 456.4L995.5 457.2L996.6 457.6L999.2 457.7L1001.8 457.1L1006.6 455.2L1008 454.8L1010 454.7L1016.8 455.1L1018.8 454.9L1020.8 454.5L1021.7 454.1L1024.2 452.7L1027.9 449.6L1033.6 444.3L1035 443.5L1036.6 443.3L1046.9 443.7L1049.1 443.7L1053.1 443L1056.6 441.7L1059 440.4L1061.4 438.7L1063.1 437.1L1066.9 432.8L1068.4 431.6L1069.3 431.3L1073.2 430.9L1077.5 430.9L1080.1 430.5L1081.6 429.9L1083.1 429.1L1085.1 427.8L1086.4 426.6L1088.9 423.5L1091.5 419.4L1096 411.1L1099.5 403.8L1100.9 401.7L1102.1 400L1104 398L1106.9 395L1112.5 389.8L1115.7 386.2L1118 382.6L1123 373.4L1125.6 369.8L1127.8 367.5L1129.4 366.5L1130.2 366.3L1134.4 366.4L1136.6 366L1138.1 365.5L1139.6 364.7L1142.9 362.2L1145.7 359.4L1147.9 356.5L1153.4 346.8L1156.2 343L1159.8 339.1L1162.7 336.7L1165.4 334.6L1168.6 332.6L1170.9 331.7L1173.7 331.3L1177.7 331.4L1180.2 331.8L1182.5 332.6L1187.4 336L1190.3 337.4L1191.8 337.7L1193.8 337.8L1199.6 337.4L1201.7 337.5L1202.9 337.7L1203.7 338.3L1205 340.1L1206.4 342.6L1207.8 346.2L1211.3 356.1L1214.3 363.9L1216 367.8L1219.1 372.9L1226.1 382.4L1228 385.7L1229.9 389.6L1232.8 396.4L1236.8 406.3L1242.7 423L1246.2 433.9L1248.7 442.8L1256.6 477L1261.7 496.6L1265.2 509.6L1269.2 522.5L1273.2 534.3L1275.4 539.8L1279.3 548.6L1281.2 554.2L1283.2 561.2L1288.7 582.5L1291.6 594.9L1296.1 614.7L1298.7 624.3L1303.2 638.6L1310.7 659.2L1319.2 687.2L1320.7 691.8L1322.4 696.1L1325 701.3L1329.5 708.7L1331.4 712.3L1338.4 726.3L1341.9 733.8L1343.5 736.8L1344.7 738.5L1346.5 740.5L1352.2 745.1L1355 747.8L1356.7 749.9L1358.9 753.4L1364.5 765.2L1366 767.7L1367.7 770L1371.1 773.9L1376.4 778.8L1383 783.8L1389.9 788.8L1393.2 791.5L1395.5 793.7L1401.7 800.4L1404 802.5L1406.1 803.9L1408.5 804.8L1411.1 805.2L1416.6 805L1422.2 804.1L1423.8 804.3L1425.3 805.3L1430.4 810.1L1435.9 814.2L1439.7 816.5L1441.8 817.3L1443.9 817.7L1445.7 817.8L1450 817.5L1451.4 817.7L1453.5 818.5L1460 822.1L1463.5 823.7L1465.5 824.4L1467.9 824.6L1470.8 823.9L1478.3 820.7L1483.7 818.9L1485.2 818.7L1486.8 818.8L1489.4 819.2L1491.1 819.9L1493.2 821.6L1505 834.2L1507.1 836.2L1509.6 837.9L1510.5 838.4L1513.4 839.1L1516.5 839.1L1522.5 838.3L1531.7 839L1536.5 838.8L1538.1 838.6L1539.6 838.1L1545 835.6L1547.5 835L1549.3 834.9L1551.8 835.3L1558.1 837L1563 837.7L1571.8 838.3L1581.9 838.2L1585.9 838.5L1586.9 838.7L1588.4 839.4L1593.6 842.6L1596 844.3L1598.1 845.3L1599.3 845.6L1601.3 845.7L1607.3 845L1613.3 846.2L1616.2 846.4L1618.5 846.2L1620 845.8L1626.1 842.9L1628.8 842.2L1631.4 841.7L1635.6 841.4L1646.3 841.5L1648.1 841.3L1652.4 840.5L1656.5 840.4L1659.7 840.5L1662.6 840.9L1665.3 842.1L1667.4 843.5L1675.7 850.7L1677.2 851.6L1679.4 852.5L1682.3 852.9L1685.1 852.6L1687.1 851.9L1689.4 850.5L1692.9 847.7L1694.8 846.7L1696.7 846.1L1699.9 845.9L1708.8 846.5L1713.1 846.4L1716.1 845.8L1720.8 844.1L1723.3 844L1726.6 844.5L1732.4 846.5L1735.6 847.4L1738.8 848.1L1741.5 848.5L1746.3 848.7L1751.6 848.6L1753.7 848.4L1758.1 847.6L1761.2 847.6L1763.8 848L1765.2 848.4L1766.2 849L1775.2 855.1L1778.1 856.3L1781.2 857.2L1783.3 857.3L1784.8 857.3L1790.6 855.9L1794.8 855.5L1796 855.7L1796.7 856L1797.7 856.8L1801.6 860.9L1806.5 865.6L1808 866.6L1809 867.1L1810.5 867.5L1813.1 867.6L1818.5 866.6L1820 866.7L1825.8 867.9L1828.3 868L1830.7 867.9L1834.6 866.9L1840.4 864L1842.8 863.6L1845.9 863.5L1849.5 864L1854.3 866.6L1856.4 867.3L1857.8 867.6L1861.8 867.8L1871.4 867.6L1874.8 867.9L1876.1 868.4L1880.4 870.6L1883.2 871.3L1884.1 871.4L1885.7 871.3L1887.2 871L1892.4 869.2L1893.8 869.1L1896.3 869.4L1899.8 870.4L1905.4 873L1906.9 873.5L1908.5 873.8L1911.1 873.8L1916.4 873L1925 872.4L1929.3 872.6L1937.2 873.3L1942 873.4L1942 866.5L1937.7 866.5L1929.8 865.7L1924.9 865.5L1915.7 866.1L1910.7 866.9L1909.2 866.9L1907.8 866.5L1901.9 863.8L1897.5 862.6L1893.9 862.2L1890.9 862.4L1885.6 864.3L1884.4 864.5L1883.2 864.2L1878.6 861.9L1875.8 861.1L1871.4 860.7L1862.1 860.9L1857.9 860.6L1851.9 857.6L1848.8 856.9L1845.9 856.6L1842.4 856.7L1838.9 857.3L1836.4 858.2L1831.8 860.5L1830 861L1826.4 861L1821.2 859.9L1818.9 859.7L1816.7 859.8L1812.5 860.7L1811.9 860.8L1811.5 860.6L1810.7 860.1L1806.4 856L1802.1 851.5L1800.6 850.3L1798.4 849.2L1795.5 848.6L1792.8 848.7L1789.2 849.1L1784 850.4L1782.5 850.4L1780.6 849.9L1778.6 849L1770 843.2L1768.1 842.2L1765.5 841.3L1762 840.8L1757.7 840.7L1751.3 841.7L1746.5 841.8L1742.3 841.6L1740.1 841.3L1734.5 840L1728.2 837.8L1723.9 837.1L1721.5 837.1L1718.9 837.5L1714.1 839.2L1712.6 839.5L1709.1 839.6L1699.9 839L1697.1 839.1L1695 839.5L1692 840.4L1689.5 841.7L1684.5 845.5L1683.3 845.9L1682.1 846L1681 845.8L1680.1 845.3L1671.8 838.1L1668.9 836.2L1666.5 835L1664.6 834.3L1662.7 833.9L1660.4 833.6L1656.4 833.5L1651.9 833.7L1645.9 834.6L1635.5 834.5L1630.4 834.9L1627.1 835.5L1624.1 836.3L1622 837.1L1617.7 839.2L1616 839.5L1614.5 839.4L1609.9 838.4L1607.4 838.1L1605.5 838.2L1601.3 838.8L1600.3 838.7L1591.8 833.4L1589.4 832.3L1586.9 831.7L1582.2 831.3L1572.1 831.4L1563.8 830.9L1559.7 830.3L1553.4 828.6L1550.1 828.1L1546.8 828.2L1543.2 828.9L1541 829.8L1537.2 831.6L1535.7 832L1532.1 832.1L1522.2 831.4L1520 831.6L1515.8 832.2L1514 832.2L1513 831.9L1511.7 831L1510 829.4L1497.6 816.3L1494.7 814L1491.8 812.7L1489.4 812.1L1487 811.9L1484.5 811.9L1482.1 812.2L1475.9 814.2L1468.9 817.3L1467.6 817.7L1467.1 817.6L1463.1 815.9L1456.7 812.4L1453.3 811L1450.3 810.6L1444.4 810.8L1442.6 810.2L1439.9 808.6L1434.7 804.7L1429.8 800.2L1428.1 798.8L1425.8 797.7L1424.3 797.3L1422.1 797.2L1416.2 798.1L1411.2 798.2L1409.9 798.1L1409.2 797.7L1406.4 795.4L1400.5 789L1397.7 786.2L1394 783.2L1387.1 778.2L1380.7 773.4L1376 768.9L1373.2 765.8L1371.9 764L1370.5 761.8L1365 750.2L1363.9 748.1L1362.4 745.9L1359.9 743L1356.9 740L1351.4 735.7L1349.4 733.3L1348.1 730.8L1344.6 723.2L1337.5 709L1335.4 705.2L1331 698L1328.7 693.4L1325.8 685.1L1317.3 657.1L1309.8 636.4L1305.3 622.3L1302.8 613.1L1298.4 593.3L1295.4 580.9L1289.8 559.4L1287.8 552.2L1285.6 545.9L1281.7 537.1L1279.7 532L1275.8 520.4L1271.8 507.6L1268.3 494.8L1263.3 475.3L1255.3 441L1252.8 431.9L1249.3 420.8L1243.2 403.8L1239.2 393.8L1236.1 386.6L1234.1 382.5L1231.8 378.6L1229.8 375.6L1224.8 369L1222.1 364.5L1220.7 361.3L1217.7 353.7L1214.3 343.8L1212.7 339.9L1210.8 336.4L1209.6 334.6L1208 332.9L1205.6 331.4L1204.1 330.9L1202.6 330.6L1199.2 330.5L1194 330.9L1192.2 330.7L1190.8 330L1187.3 327.4L1185.1 326.1L1182.1 325.1L1178.5 324.5L1173.1 324.4L1169.3 325L1167.4 325.6L1165.5 326.5L1161.7 328.8L1158.4 331.2L1155.3 333.9L1153.1 336.1L1150.9 338.6L1147.5 343.3L1142.2 352.7L1140.4 354.9L1138.2 357.1L1136.1 358.7L1134.7 359.4L1133.9 359.5L1129.5 359.4L1127.9 359.7L1126.4 360.2L1124.9 361.1L1123.4 362.2L1120.3 365.4L1118.7 367.5L1117 370L1112 379.2L1110.2 382L1107.6 385L1102.2 390L1099 393.2L1097 395.5L1095.3 397.6L1093.4 400.7L1089.9 407.9L1085.5 416L1083.2 419.6L1081.5 421.7L1079.7 423.2L1078.2 423.8L1077.2 424L1072.7 424L1069.5 424.3L1067.4 424.6L1065.2 425.4L1063.7 426.4L1062.2 427.7L1056.8 433.5L1055.2 434.6L1053.6 435.5L1051.1 436.4L1048.7 436.8L1036.6 436.4L1034.8 436.6L1033.3 436.8L1031.2 437.7L1029.3 438.9L1023.2 444.6L1020 447.1L1018.7 447.9L1016.5 448.2L1010.2 447.8L1007.3 447.9L1004.6 448.5L999.5 450.6L998.3 450.8L997.9 450.7L994 447.6L989.5 444.5L987.2 443.2L983.8 441.6L976.8 438.8L973.2 437.8L971.3 437.7L969.4 437.9L966.9 438.4L965.2 439L962.7 440.2L958.4 443.9L956.4 442.4L955.2 441L953.9 439.3L948.4 430.7L946.1 427.9L944.5 426.6L943 425.8L938.6 424.6L937.2 424L934.2 421.7L931.7 419.1L929.9 416.6L928.1 413.3L922.1 400.8L917.1 389.4L915.6 386.5L913.9 383.8L910.9 380.2L905 374.6L902.8 372L901 369.2L895.9 359.8L893.9 356.8L891.7 354L889.5 351.7L887.6 350.2L885.2 348.9L880.5 347.2L879.6 346.6L878.5 345.7L876.3 342.9L871.4 335.5L869.3 332.6L863.1 325.7L860.8 322.8L858.6 319L857.2 315.7L855.8 311.7L854.3 306.9L850.8 293.3L848.8 286.9L846.5 281.8L845.3 279.7L843.5 277.4L840.6 274.5L836.9 271.7L831.6 268.3L824.3 264.4L821.7 262.6L819.6 260.4L815.1 255L807.3 246.2L800.8 240.2L795.8 236.2L792.6 234.4L791 233.9L789.5 233.7L785.4 233.8L780.1 235.1L779.3 235.1L778.2 234.3L774.9 231.4L771.6 227.7L769.8 226.1L767.5 224.8L764.9 224.3L762.1 224.5L759.3 225.4L757.1 226.7L754.7 228.8L751.2 232.8L744.7 241.9L738.9 249.3L735.5 253.1L733.2 255.3L731.5 256.6L722.5 261.9L720.2 263.5L718.2 265.3L714.9 268.8L709.4 275.3L701.3 285.7L698.5 289L695.8 291.6L690.4 295.5L688.3 297.3L685.5 300.2L682.8 303.5L677.1 311.9L672 320.6L666 331.8L659.4 345.3L656.5 350.7L653.2 355.6L645.7 365.1L639.7 373.8L634.6 381.7L629.5 391L627.6 394.1L625.5 396.6L620.6 401.2L614.6 407.2L610.8 411.6L609.2 414L608 416L603 426.2L601 429.2L599.4 430.6L594.2 434L592.4 435.7L591 437.3L589.4 440.1L587.3 444.6L585.7 448.5L582.3 458.8L581.5 460.5L580.8 461.5L579.6 462.6L577.2 463.8L576.4 464L572.5 464.5L570.1 465.4L567.9 467L566.1 469.1L564 472.4L562 476.1L560.3 479.9L557.3 487.4L556.5 489.1L555.2 491.1L553 493.7L543.1 503.4L539.7 507.2L536.7 511.3L532.7 517.1L525.6 528.8L523.2 532.2L521 534.9L514.9 541L513.2 543L511.5 545.4L508.9 549.9L505.3 557.1L499.9 571L498 574.4L496.3 576.9L495.2 578L494.3 578.6L492.4 579.1L488.2 579.4L485.9 579.8L483.2 580.9L480.6 582.5L477.7 585.2L474.4 588.9L472.5 591.7L468.6 598.6L464.2 605L460.9 609.2L456.6 613.7L453.9 616L451.5 617.6L449.6 618.3L445.6 619L443 619.8L440.3 621.2L437.9 623.2L436.2 625.1L434.6 627.4L433 629.9L431 633.5L429.2 637.7L426.8 645L425.4 648.6L424 651.1L422.3 653.8L421.2 655L419.7 656.1L417.8 657L413 658.5L410.1 659.7L407.2 661.6L404.2 664.2L401.5 667.1L398.8 670.5L397.4 672.8L393.6 680.2L391.8 682.6L390.1 684.6L388.9 685.6L387.5 686.3L385.6 686.4L381.4 685.8L379.1 685.8L376.4 686.2L374 687.1L371.8 688.8L369.7 691.1L368.1 693.4L366.6 695.9L365.2 699.3L363.3 705.5L361.6 708.7L360.7 709.9L359.5 711.5L357.3 713.6L355.1 715.2L352.2 717L342.4 722.5L339.1 723.9L338.3 724.1L337.5 724L333.9 723.3L330.7 722.2L328.4 721.8L326.3 722L324.2 722.9L322.8 723.8L321.3 725L317.5 729L315.6 731.4L311.3 738L310.2 739.2L309.4 739.8L308.7 740L306.3 739.9L301.7 738.7L297.7 738L295.8 737.8L293.6 737.9L291.9 738.4L289.5 739.7L280 746.9L278.4 747.8L276 748.1L270.8 747.6L268.1 747.6L266 748L263.9 748.7L262.5 749.5L261 750.5L256.6 754.7L254.3 757.5L249.8 763.3L248.1 765.2L246.5 766.5L243.9 767.8L242.7 768.2L240.4 768.5L235.4 766.6L230.4 765.2L228.5 764.9L226.2 765L223.6 765.7L221.7 766.5L219.9 767.6L216.2 770.6L214.1 773L211.2 777.3L210 778.8L206.8 781.7L204.4 783.4L203.4 783.8L201.8 784.2L194.3 784.9L191.9 785.4L190 786.1L186.2 788L177.9 793L171.8 795.4L169.2 796.6L165.6 798.8Z" fill="#0000ff"/>
</g>
<g id="legend">
<path d="M1480 81 H1655 V88 H1480 L1478 86 V83 Z" fill="#0000ff" shape-rendering="crispEdges"/>
<text transform="translate(1676.70 112.10) scale(1 1.020)" font-size="78.5">700<tspan class="cjk" font-size="71.5" dx="2.7" dy="-1.7">℃</tspan></text>
<path d="M1480 177 H1655 V184 H1480 L1478 182 V179 Z" fill="#008000" shape-rendering="crispEdges"/>
<text transform="translate(1676.70 208.00) scale(1 1.020)" font-size="78.5">650<tspan class="cjk" font-size="71.5" dx="2.7" dy="-1.7">℃</tspan></text>
<path d="M1480 272 H1655 V279 H1480 L1478 277 V274 Z" fill="#ff0000" shape-rendering="crispEdges"/>
<text transform="translate(1676.70 303.00) scale(1 1.020)" font-size="78.5">600<tspan class="cjk" font-size="71.5" dx="2.7" dy="-1.7">℃</tspan></text>
<path d="M1480 367 H1655 V374 H1480 L1478 372 V369 Z" fill="#000000" shape-rendering="crispEdges"/>
<text transform="translate(1676.70 398.20) scale(1 1.020)" font-size="78.5">550<tspan class="cjk" font-size="71.5" dx="2.7" dy="-1.7">℃</tspan></text>
<path d="M1480 463 H1655 V470 H1480 L1478 468 V465 Z" fill="#ff00ff" shape-rendering="crispEdges"/>
<text transform="translate(1676.70 494.10) scale(1 1.020)" font-size="78.5">450<tspan class="cjk" font-size="71.5" dx="2.7" dy="-1.7">℃</tspan></text>
</g>
<text transform="translate(743.40 151.00) scale(1 1.042)" font-size="83.5">D</text>
<text transform="translate(1149.30 248.00) scale(1 1.042)" font-size="83.5">G</text>
<text transform="translate(160.30 1409.60) scale(1 1.020)" font-size="83.5" text-anchor="middle">1000</text>
<text transform="translate(514.90 1409.60) scale(1 1.020)" font-size="83.5" text-anchor="middle">1200</text>
<text transform="translate(869.50 1409.60) scale(1 1.020)" font-size="83.5" text-anchor="middle">1400</text>
<text transform="translate(1224.10 1409.60) scale(1 1.020)" font-size="83.5" text-anchor="middle">1600</text>
<text transform="translate(1578.70 1409.60) scale(1 1.020)" font-size="83.5" text-anchor="middle">1800</text>
<text transform="translate(1933.30 1409.60) scale(1 1.020)" font-size="83.5" text-anchor="middle">2000</text>
<text transform="translate(681.60 1532.00) scale(1 1.020)" font-size="88.6">Raman shift (cm<tspan font-size="52" dy="-48.2" dx="0">−1</tspan><tspan dy="48.2" dx="0">)</tspan></text>
<text transform="translate(76.1 947.4) rotate(-90) scale(1 1.020)" font-size="88.6">Intensity (a.u.)</text>
</svg>
</body>
</html>
